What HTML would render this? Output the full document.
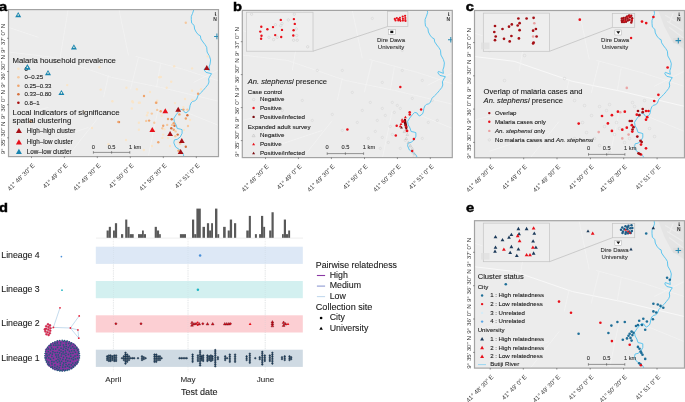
<!DOCTYPE html><html><head><meta charset="utf-8"><style>html,body{margin:0;padding:0;background:#fff;}svg{display:block;will-change:transform;}</style></head><body>
<svg width="685" height="402" viewBox="0 0 685 402" font-family='"Liberation Sans", sans-serif'>
<rect width="685" height="402" fill="#fff"/>
<clipPath id="ca"><rect x="0" y="0" width="210.0" height="147"/></clipPath>
<g transform="translate(8.5,9.6)">
<rect x="0" y="0" width="210.0" height="147" fill="#ececec"/>
<g clip-path="url(#ca)">
<g transform="translate(0,-2.2)">
<path d="M-5,44 L45,50 L103,70 L152,80 L215,95" stroke="#f2f2f2" stroke-width="0.8" fill="none"/>
<path d="M127,49 L175,62 L215,75" stroke="#f2f2f2" stroke-width="0.8" fill="none"/>
<path d="M130,50 L122,82" stroke="#f2f2f2" stroke-width="0.8" fill="none"/>
<path d="M152,57 L148,80" stroke="#f2f2f2" stroke-width="0.8" fill="none"/>
<path d="M100,68 L95,90" stroke="#f2f2f2" stroke-width="0.8" fill="none"/>
<path d="M60,0 L50,60" stroke="#f2f2f2" stroke-width="0.8" fill="none"/>
<path d="M0,20 L30,30" stroke="#f2f2f2" stroke-width="0.8" fill="none"/>
<path d="M185,75 L215,60" stroke="#f2f2f2" stroke-width="0.8" fill="none"/>
<path d="M178,105 L215,120" stroke="#f2f2f2" stroke-width="0.8" fill="none"/>
<path d="M150,100 L140,148" stroke="#f2f2f2" stroke-width="0.8" fill="none"/>
<path d="M0,110 L40,100" stroke="#f2f2f2" stroke-width="0.8" fill="none"/>
<path d="M110,0 L120,48" stroke="#f2f2f2" stroke-width="0.8" fill="none"/>
<path d="M20,140 L80,120" stroke="#f2f2f2" stroke-width="0.8" fill="none"/>
<path d="M60,148 L90,110" stroke="#f2f2f2" stroke-width="0.8" fill="none"/>
<path d="M184.9,-1 L185.3,2.3 L184.1,5.9 L182.8,9 L182.8,12.2 L183.2,15.8 L185.6,17.9 L186.1,21.6 L187.7,24.7 L189.8,27.3 L191.9,28.4 L192.4,31.5 L194.5,34.6 L196.6,37.3 L198.2,39.9 L198.6,44.6 L201.1,49.1 L202.1,52.5 L201.6,56.5 L200.6,59.5 L201.1,63 L196.1,61 L195.6,62.5 L197.6,65 L203.1,66.3 L201.6,68.5 L200.1,71.4 L200.5,74.6 L199.5,77.1 L197.1,80.1 L194.6,83.1 L192.1,85.5 L189.6,88 L188.1,92 L186.1,93.5 L184.1,94 L182.6,95.5 L181.6,98 L181,101.5 L180.2,103.5 L177.5,105.5 L175.7,104.5 L174.8,102.6 L172.4,102 L170,104.4 L167.6,107.4 L165.3,111 L165.9,114.5 L167.6,117.5 L168.8,121.1 L171.8,121.7 L173.6,122.3 L173.6,125.9 L171.8,129.5 L168.8,131.9 L165.9,132.5 L165.3,135.4 L167.1,139.6 L170.6,142 L173.6,144.4 L174.8,146.8 L175.5,150" stroke="#55c3ee" stroke-width="0.95" fill="none" stroke-linejoin="round"/>
</g>
<circle cx="124.40" cy="92.70" r="1.2" fill="#f9e5c9"/>
<circle cx="130.40" cy="93.20" r="1.2" fill="#f9e5c9"/>
<circle cx="147.40" cy="93.20" r="1.2" fill="#f5c9a0"/>
<circle cx="148.70" cy="91.10" r="1.2" fill="#f9e5c9"/>
<circle cx="139.30" cy="103.20" r="1.2" fill="#f9e5c9"/>
<circle cx="143.30" cy="104.00" r="1.2" fill="#f5c9a0"/>
<circle cx="138.50" cy="105.60" r="1.2" fill="#f9e5c9"/>
<circle cx="140.60" cy="111.00" r="1.2" fill="#efa46c"/>
<circle cx="137.70" cy="111.30" r="1.2" fill="#f5c9a0"/>
<circle cx="145.80" cy="113.20" r="1.2" fill="#f5c9a0"/>
<circle cx="130.40" cy="113.20" r="1.2" fill="#f9e5c9"/>
<circle cx="130.40" cy="120.20" r="1.2" fill="#f9e5c9"/>
<circle cx="148.70" cy="100.30" r="1.2" fill="#f5c9a0"/>
<circle cx="152.20" cy="101.60" r="1.2" fill="#efa46c"/>
<circle cx="153.10" cy="106.10" r="1.2" fill="#f9e5c9"/>
<circle cx="159.50" cy="109.40" r="1.2" fill="#efa46c"/>
<circle cx="163.20" cy="109.70" r="1.2" fill="#d6713d"/>
<circle cx="165.20" cy="113.70" r="1.2" fill="#efa46c"/>
<circle cx="163.60" cy="115.30" r="1.2" fill="#f5c9a0"/>
<circle cx="158.70" cy="115.30" r="1.2" fill="#f5c9a0"/>
<circle cx="154.70" cy="116.10" r="1.2" fill="#efa46c"/>
<circle cx="153.90" cy="118.60" r="1.2" fill="#f5c9a0"/>
<circle cx="155.80" cy="119.70" r="1.2" fill="#f9e5c9"/>
<circle cx="166.00" cy="116.10" r="1.2" fill="#d6713d"/>
<circle cx="162.80" cy="118.60" r="1.2" fill="#d6713d"/>
<circle cx="165.20" cy="120.20" r="1.2" fill="#efa46c"/>
<circle cx="167.10" cy="121.80" r="1.2" fill="#f5c9a0"/>
<circle cx="169.20" cy="125.00" r="1.2" fill="#d6713d"/>
<circle cx="166.80" cy="126.70" r="1.2" fill="#f5c9a0"/>
<circle cx="154.70" cy="125.00" r="1.2" fill="#f9e5c9"/>
<circle cx="153.90" cy="128.30" r="1.2" fill="#f9e5c9"/>
<circle cx="159.50" cy="128.30" r="1.2" fill="#f9e5c9"/>
<circle cx="149.80" cy="132.60" r="1.2" fill="#efa46c"/>
<circle cx="170.00" cy="132.60" r="1.2" fill="#f9e5c9"/>
<circle cx="171.70" cy="133.90" r="1.2" fill="#f5c9a0"/>
<circle cx="177.30" cy="137.20" r="1.2" fill="#d6713d"/>
<circle cx="174.90" cy="100.00" r="1.2" fill="#efa46c"/>
<circle cx="178.90" cy="100.00" r="1.2" fill="#f5c9a0"/>
<circle cx="178.90" cy="105.60" r="1.2" fill="#d6713d"/>
<circle cx="177.30" cy="108.90" r="1.2" fill="#efa46c"/>
<circle cx="170.90" cy="104.80" r="1.2" fill="#efa46c"/>
<circle cx="170.00" cy="101.60" r="1.2" fill="#f5c9a0"/>
<circle cx="174.90" cy="97.50" r="1.2" fill="#f9e5c9"/>
<circle cx="176.50" cy="89.40" r="1.2" fill="#f9e5c9"/>
<circle cx="183.80" cy="90.30" r="1.2" fill="#f9e5c9"/>
<circle cx="166.50" cy="93.50" r="1.2" fill="#f9e5c9"/>
<circle cx="135.30" cy="140.40" r="1.2" fill="#f9e5c9"/>
<circle cx="170.00" cy="141.20" r="1.2" fill="#efa46c"/>
<circle cx="172.50" cy="142.80" r="1.2" fill="#f5c9a0"/>
<circle cx="145.80" cy="121.00" r="1.2" fill="#f9e5c9"/>
<circle cx="165.70" cy="56.70" r="1.2" fill="#f9e5c9"/>
<circle cx="183.60" cy="58.80" r="1.2" fill="#f9e5c9"/>
<circle cx="150.80" cy="67.70" r="1.2" fill="#f9e5c9"/>
<circle cx="162.70" cy="72.20" r="1.2" fill="#f9e5c9"/>
<circle cx="158.20" cy="78.20" r="1.2" fill="#f9e5c9"/>
<circle cx="183.60" cy="81.10" r="1.2" fill="#f9e5c9"/>
<circle cx="192.50" cy="79.70" r="1.2" fill="#f9e5c9"/>
<circle cx="189.60" cy="84.10" r="1.2" fill="#efa46c"/>
<circle cx="117.90" cy="78.20" r="1.2" fill="#f9e5c9"/>
<circle cx="128.40" cy="79.70" r="1.2" fill="#f9e5c9"/>
<circle cx="123.90" cy="91.60" r="1.2" fill="#f9e5c9"/>
<circle cx="131.40" cy="93.10" r="1.2" fill="#f9e5c9"/>
<circle cx="147.80" cy="93.10" r="1.2" fill="#efa46c"/>
<circle cx="110.50" cy="112.50" r="1.2" fill="#d6713d"/>
<circle cx="103.90" cy="91.60" r="1.2" fill="#f9e5c9"/>
<circle cx="177.30" cy="13.10" r="1.2" fill="#f5c9a0"/>
<circle cx="152.30" cy="67.40" r="1.2" fill="#f9e5c9"/>
<circle cx="199.20" cy="46.80" r="1.2" fill="#f9e5c9"/>
<circle cx="91.00" cy="57.60" r="1.2" fill="#f9e5c9"/>
<circle cx="92.20" cy="80.00" r="1.2" fill="#f9e5c9"/>
<circle cx="58.70" cy="75.50" r="1.2" fill="#f9e5c9"/>
<circle cx="100.00" cy="134.70" r="1.2" fill="#f9e5c9"/>
<circle cx="109.90" cy="112.30" r="1.2" fill="#efa46c"/>
<circle cx="123.30" cy="98.90" r="1.2" fill="#f9e5c9"/>
<circle cx="181.50" cy="110.40" r="1.2" fill="#f9e5c9"/>
<circle cx="179.50" cy="116.40" r="1.2" fill="#f5c9a0"/>
<circle cx="175.50" cy="120.40" r="1.2" fill="#f9e5c9"/>
<circle cx="161.50" cy="136.40" r="1.2" fill="#f9e5c9"/>
<circle cx="143.50" cy="136.40" r="1.2" fill="#f9e5c9"/>
<circle cx="117.50" cy="130.40" r="1.2" fill="#f9e5c9"/>
<circle cx="22.00" cy="111.90" r="1.2" fill="#efa46c"/>
<circle cx="83.50" cy="118.40" r="1.2" fill="#f9e5c9"/>
<circle cx="75.50" cy="102.40" r="1.2" fill="#f9e5c9"/>
<circle cx="141.50" cy="82.40" r="1.2" fill="#f9e5c9"/>
<circle cx="135.50" cy="86.40" r="1.2" fill="#efa46c"/>
<polygon points="6.70,7.60 12.70,7.60 9.70,2.40" fill="#1985b0"/>
<circle cx="9.70" cy="5.40" r="0.8" fill="#fffbe3"/>
<polygon points="62.40,39.90 68.40,39.90 65.40,34.70" fill="#1985b0"/>
<circle cx="65.40" cy="37.70" r="0.8" fill="#fffbe3"/>
<polygon points="15.90,59.90 21.90,59.90 18.90,54.70" fill="#1985b0"/>
<circle cx="18.90" cy="57.70" r="0.8" fill="#fffbe3"/>
<polygon points="36.50,65.70 42.50,65.70 39.50,60.50" fill="#1985b0"/>
<circle cx="39.50" cy="63.50" r="0.8" fill="#fffbe3"/>
<polygon points="49.90,85.50 55.90,85.50 52.90,80.30" fill="#1985b0"/>
<circle cx="52.90" cy="83.30" r="0.8" fill="#fffbe3"/>
<polygon points="195.40,60.41 201.20,60.41 198.30,55.39" fill="#a50f15"/>
<polygon points="153.90,103.61 159.70,103.61 156.80,98.59" fill="#e8101a"/>
<polygon points="166.80,102.11 172.60,102.11 169.70,97.09" fill="#a50f15"/>
<polygon points="140.90,122.41 146.70,122.41 143.80,117.39" fill="#e8101a"/>
<polygon points="158.70,126.41 164.50,126.41 161.60,121.39" fill="#a50f15"/>
<polygon points="170.40,133.51 176.20,133.51 173.30,128.49" fill="#a50f15"/>
<polygon points="169.20,144.51 175.00,144.51 172.10,139.49" fill="#a50f15"/>
<text x="4.00" y="53.00" font-size="7.75" fill="#1a1a1a" stroke="#1a1a1a" stroke-width="0.1">Malaria household prevalence</text>
<circle cx="9.90" cy="59.10" r="1.3" fill="#f9e5c9"/>
<text x="15.90" y="61.00" font-size="6.1" fill="#1a1a1a" stroke="#1a1a1a" stroke-width="0.1">0</text>
<circle cx="9.90" cy="67.60" r="1.3" fill="#f5c9a0"/>
<text x="15.90" y="69.50" font-size="6.1" fill="#1a1a1a" stroke="#1a1a1a" stroke-width="0.1">0–0.25</text>
<circle cx="9.90" cy="76.10" r="1.3" fill="#efa46c"/>
<text x="15.90" y="78.00" font-size="6.1" fill="#1a1a1a" stroke="#1a1a1a" stroke-width="0.1">0.25–0.33</text>
<circle cx="9.90" cy="84.60" r="1.3" fill="#d6713d"/>
<text x="15.90" y="86.50" font-size="6.1" fill="#1a1a1a" stroke="#1a1a1a" stroke-width="0.1">0.33–0.80</text>
<circle cx="9.90" cy="93.10" r="1.3" fill="#a80d0d"/>
<text x="15.90" y="95.00" font-size="6.1" fill="#1a1a1a" stroke="#1a1a1a" stroke-width="0.1">0.8–1</text>
<polygon points="15.90,59.90 21.90,59.90 18.90,54.70" fill="#1985b0"/>
<circle cx="18.90" cy="57.70" r="0.8" fill="#fffbe3"/>
<text x="4.00" y="105.30" font-size="7.9" fill="#1a1a1a" stroke="#1a1a1a" stroke-width="0.1">Local indicators of significance</text>
<text x="4.00" y="113.40" font-size="7.9" fill="#1a1a1a" stroke="#1a1a1a" stroke-width="0.1">spatial clustering</text>
<polygon points="7.40,123.50 13.40,123.50 10.40,118.30" fill="#a50f15"/>
<text x="18.20" y="123.20" font-size="6.3" fill="#1a1a1a" stroke="#1a1a1a" stroke-width="0.1">High–high cluster</text>
<polygon points="7.40,134.90 13.40,134.90 10.40,129.70" fill="#e8101a"/>
<text x="18.20" y="134.60" font-size="6.3" fill="#1a1a1a" stroke="#1a1a1a" stroke-width="0.1">High–low cluster</text>
<polygon points="7.40,144.30 13.40,144.30 10.40,139.10" fill="#1985b0"/>
<text x="18.20" y="144.00" font-size="6.3" fill="#1a1a1a" stroke="#1a1a1a" stroke-width="0.1">Low–low cluster</text>
<path d="M84.9,142.8 L121.30000000000001,142.8 M84.9,141.5 L84.9,144.10000000000002 M103.10000000000001,141.5 L103.10000000000001,144.10000000000002 M121.30000000000001,141.5 L121.30000000000001,144.10000000000002" stroke="#555" stroke-width="0.6" fill="none"/>
<text x="84.90" y="139.00" font-size="5.7" fill="#333" text-anchor="middle" stroke="#333" stroke-width="0.1">0</text>
<text x="103.10" y="139.00" font-size="5.7" fill="#333" text-anchor="middle" stroke="#333" stroke-width="0.1">0.5</text>
<text x="120.50" y="139.00" font-size="5.7" fill="#333" stroke="#333" stroke-width="0.1">1 km</text>
<path d="M206.9,2.4 L206.9,5.9" stroke="#222" stroke-width="0.7" fill="none"/>
<path d="M206.6,4.4 L208.20000000000002,6.0 L206.6,6.0 Z" fill="#222"/>
<text transform="translate(206.55,11.1) scale(0.8,1)" font-size="6.2" font-weight="bold" fill="#333" text-anchor="middle">N</text>
<path d="M205.6,26.8 L211.20000000000002,26.8 M208.4,24.0 L208.4,29.6" stroke="#2a8cb4" stroke-width="1.05"/>
</g>
<rect x="0" y="0" width="210.0" height="147" fill="none" stroke="#a3a3a3" stroke-width="1.2"/>
</g>
<text transform="translate(-0.9,10.6) scale(1.13,1)" font-size="13" font-weight="bold" fill="#000" stroke="#000" stroke-width="0.45">a</text>
<path d="M31.5,156.6 L31.5,158.1" stroke="#333" stroke-width="0.5"/>
<text x="35.30" y="165.90" font-size="6.2" fill="#3d3d3d" text-anchor="end" transform="rotate(-45 35.30 165.90)">41° 48' 30&quot; E</text>
<path d="M64.4,156.6 L64.4,158.1" stroke="#333" stroke-width="0.5"/>
<text x="68.20" y="165.90" font-size="6.2" fill="#3d3d3d" text-anchor="end" transform="rotate(-45 68.20 165.90)">41° 49' 0&quot; E</text>
<path d="M97.3,156.6 L97.3,158.1" stroke="#333" stroke-width="0.5"/>
<text x="101.10" y="165.90" font-size="6.2" fill="#3d3d3d" text-anchor="end" transform="rotate(-45 101.10 165.90)">41° 49' 30&quot; E</text>
<path d="M130.3,156.6 L130.3,158.1" stroke="#333" stroke-width="0.5"/>
<text x="134.10" y="165.90" font-size="6.2" fill="#3d3d3d" text-anchor="end" transform="rotate(-45 134.10 165.90)">41° 50' 0&quot; E</text>
<path d="M163.3,156.6 L163.3,158.1" stroke="#333" stroke-width="0.5"/>
<text x="167.10" y="165.90" font-size="6.2" fill="#3d3d3d" text-anchor="end" transform="rotate(-45 167.10 165.90)">41° 50' 30&quot; E</text>
<path d="M196.3,156.6 L196.3,158.1" stroke="#333" stroke-width="0.5"/>
<text x="200.10" y="165.90" font-size="6.2" fill="#3d3d3d" text-anchor="end" transform="rotate(-45 200.10 165.90)">41° 51' 0&quot; E</text>
<path d="M7.0,38.3 L8.5,38.3" stroke="#333" stroke-width="0.5"/>
<text x="5.10" y="38.30" font-size="6.2" fill="#3d3d3d" text-anchor="middle" transform="rotate(-90 5.10 38.30)">9° 37' 0&quot; N</text>
<path d="M7.0,71.5 L8.5,71.5" stroke="#333" stroke-width="0.5"/>
<text x="5.10" y="71.50" font-size="6.2" fill="#3d3d3d" text-anchor="middle" transform="rotate(-90 5.10 71.50)">9° 36' 30&quot; N</text>
<path d="M7.0,104.7 L8.5,104.7" stroke="#333" stroke-width="0.5"/>
<text x="5.10" y="104.70" font-size="6.2" fill="#3d3d3d" text-anchor="middle" transform="rotate(-90 5.10 104.70)">9° 36' 0&quot; N</text>
<path d="M7.0,137.8 L8.5,137.8" stroke="#333" stroke-width="0.5"/>
<text x="5.10" y="137.80" font-size="6.2" fill="#3d3d3d" text-anchor="middle" transform="rotate(-90 5.10 137.80)">9° 35' 30&quot; N</text>
<clipPath id="cb"><rect x="0" y="0" width="210.0" height="147.2"/></clipPath>
<g transform="translate(242.3,10.4)">
<rect x="0" y="0" width="210.0" height="147.2" fill="#ececec"/>
<g clip-path="url(#cb)">
<g transform="">
<path d="M-5,44 L45,50 L103,70 L152,80 L215,95" stroke="#f2f2f2" stroke-width="0.8" fill="none"/>
<path d="M127,49 L175,62 L215,75" stroke="#f2f2f2" stroke-width="0.8" fill="none"/>
<path d="M130,50 L122,82" stroke="#f2f2f2" stroke-width="0.8" fill="none"/>
<path d="M152,57 L148,80" stroke="#f2f2f2" stroke-width="0.8" fill="none"/>
<path d="M100,68 L95,90" stroke="#f2f2f2" stroke-width="0.8" fill="none"/>
<path d="M60,0 L50,60" stroke="#f2f2f2" stroke-width="0.8" fill="none"/>
<path d="M0,20 L30,30" stroke="#f2f2f2" stroke-width="0.8" fill="none"/>
<path d="M185,75 L215,60" stroke="#f2f2f2" stroke-width="0.8" fill="none"/>
<path d="M178,105 L215,120" stroke="#f2f2f2" stroke-width="0.8" fill="none"/>
<path d="M150,100 L140,148" stroke="#f2f2f2" stroke-width="0.8" fill="none"/>
<path d="M0,110 L40,100" stroke="#f2f2f2" stroke-width="0.8" fill="none"/>
<path d="M110,0 L120,48" stroke="#f2f2f2" stroke-width="0.8" fill="none"/>
<path d="M20,140 L80,120" stroke="#f2f2f2" stroke-width="0.8" fill="none"/>
<path d="M60,148 L90,110" stroke="#f2f2f2" stroke-width="0.8" fill="none"/>
<path d="M184.9,-1 L185.3,2.3 L184.1,5.9 L182.8,9 L182.8,12.2 L183.2,15.8 L185.6,17.9 L186.1,21.6 L187.7,24.7 L189.8,27.3 L191.9,28.4 L192.4,31.5 L194.5,34.6 L196.6,37.3 L198.2,39.9 L198.6,44.6 L201.1,49.1 L202.1,52.5 L201.6,56.5 L200.6,59.5 L201.1,63 L196.1,61 L195.6,62.5 L197.6,65 L203.1,66.3 L201.6,68.5 L200.1,71.4 L200.5,74.6 L199.5,77.1 L197.1,80.1 L194.6,83.1 L192.1,85.5 L189.6,88 L188.1,92 L186.1,93.5 L184.1,94 L182.6,95.5 L181.6,98 L181,101.5 L180.2,103.5 L177.5,105.5 L175.7,104.5 L174.8,102.6 L172.4,102 L170,104.4 L167.6,107.4 L165.3,111 L165.9,114.5 L167.6,117.5 L168.8,121.1 L171.8,121.7 L173.6,122.3 L173.6,125.9 L171.8,129.5 L168.8,131.9 L165.9,132.5 L165.3,135.4 L167.1,139.6 L170.6,142 L173.6,144.4 L174.8,146.8 L175.5,150" stroke="#55c3ee" stroke-width="0.95" fill="none" stroke-linejoin="round"/>
</g>
<circle cx="130.00" cy="8.00" r="1.15" fill="none" stroke="#d0d0d0" stroke-width="0.45"/>
<circle cx="160.00" cy="40.00" r="1.15" fill="none" stroke="#d0d0d0" stroke-width="0.45"/>
<circle cx="180.00" cy="70.00" r="1.15" fill="none" stroke="#d0d0d0" stroke-width="0.45"/>
<circle cx="170.00" cy="88.00" r="1.15" fill="none" stroke="#d0d0d0" stroke-width="0.45"/>
<circle cx="150.00" cy="92.00" r="1.15" fill="none" stroke="#d0d0d0" stroke-width="0.45"/>
<circle cx="155.00" cy="95.00" r="1.15" fill="none" stroke="#d0d0d0" stroke-width="0.45"/>
<circle cx="140.00" cy="98.00" r="1.15" fill="none" stroke="#d0d0d0" stroke-width="0.45"/>
<circle cx="120.00" cy="100.00" r="1.15" fill="none" stroke="#d0d0d0" stroke-width="0.45"/>
<circle cx="110.00" cy="82.00" r="1.15" fill="none" stroke="#d0d0d0" stroke-width="0.45"/>
<circle cx="190.00" cy="90.00" r="1.15" fill="none" stroke="#d0d0d0" stroke-width="0.45"/>
<circle cx="195.00" cy="110.00" r="1.15" fill="none" stroke="#d0d0d0" stroke-width="0.45"/>
<circle cx="135.00" cy="110.00" r="1.15" fill="none" stroke="#d0d0d0" stroke-width="0.45"/>
<circle cx="100.00" cy="120.00" r="1.15" fill="none" stroke="#d0d0d0" stroke-width="0.45"/>
<circle cx="60.00" cy="90.00" r="1.15" fill="none" stroke="#d0d0d0" stroke-width="0.45"/>
<circle cx="70.00" cy="110.00" r="1.15" fill="none" stroke="#d0d0d0" stroke-width="0.45"/>
<circle cx="40.00" cy="100.00" r="1.15" fill="none" stroke="#d0d0d0" stroke-width="0.45"/>
<circle cx="20.00" cy="120.00" r="1.15" fill="none" stroke="#d0d0d0" stroke-width="0.45"/>
<circle cx="90.00" cy="104.00" r="1.15" fill="none" stroke="#d0d0d0" stroke-width="0.45"/>
<circle cx="105.00" cy="135.00" r="1.15" fill="none" stroke="#d0d0d0" stroke-width="0.45"/>
<circle cx="126.00" cy="128.00" r="1.15" fill="none" stroke="#d0d0d0" stroke-width="0.45"/>
<circle cx="133.00" cy="121.00" r="1.15" fill="none" stroke="#d0d0d0" stroke-width="0.45"/>
<circle cx="140.00" cy="127.00" r="1.15" fill="none" stroke="#d0d0d0" stroke-width="0.45"/>
<circle cx="146.00" cy="132.00" r="1.15" fill="none" stroke="#d0d0d0" stroke-width="0.45"/>
<circle cx="150.00" cy="124.00" r="1.15" fill="none" stroke="#d0d0d0" stroke-width="0.45"/>
<circle cx="148.00" cy="116.00" r="1.15" fill="none" stroke="#d0d0d0" stroke-width="0.45"/>
<circle cx="143.00" cy="105.00" r="1.15" fill="none" stroke="#d0d0d0" stroke-width="0.45"/>
<circle cx="152.00" cy="102.00" r="1.15" fill="none" stroke="#d0d0d0" stroke-width="0.45"/>
<circle cx="158.00" cy="98.00" r="1.15" fill="none" stroke="#d0d0d0" stroke-width="0.45"/>
<circle cx="163.00" cy="130.00" r="1.15" fill="none" stroke="#d0d0d0" stroke-width="0.45"/>
<circle cx="168.00" cy="136.00" r="1.15" fill="none" stroke="#d0d0d0" stroke-width="0.45"/>
<circle cx="170.00" cy="142.00" r="1.15" fill="none" stroke="#d0d0d0" stroke-width="0.45"/>
<circle cx="172.00" cy="146.00" r="1.15" fill="none" stroke="#d0d0d0" stroke-width="0.45"/>
<circle cx="158.00" cy="138.00" r="1.15" fill="none" stroke="#d0d0d0" stroke-width="0.45"/>
<circle cx="138.00" cy="138.00" r="1.15" fill="none" stroke="#d0d0d0" stroke-width="0.45"/>
<circle cx="115.00" cy="112.00" r="1.15" fill="none" stroke="#d0d0d0" stroke-width="0.45"/>
<circle cx="128.00" cy="92.00" r="1.15" fill="none" stroke="#d0d0d0" stroke-width="0.45"/>
<circle cx="180.00" cy="128.00" r="1.15" fill="none" stroke="#d0d0d0" stroke-width="0.45"/>
<circle cx="186.00" cy="112.00" r="1.15" fill="none" stroke="#d0d0d0" stroke-width="0.45"/>
<circle cx="160.00" cy="60.00" r="1.15" fill="none" stroke="#d0d0d0" stroke-width="0.45"/>
<circle cx="140.00" cy="72.00" r="1.15" fill="none" stroke="#d0d0d0" stroke-width="0.45"/>
<circle cx="75.00" cy="60.00" r="1.15" fill="none" stroke="#d0d0d0" stroke-width="0.45"/>
<circle cx="100.00" cy="60.00" r="1.15" fill="none" stroke="#d0d0d0" stroke-width="0.45"/>
<rect x="4.2" y="1.8" width="66.5" height="39" fill="#eeeeee" stroke="#c4c4c4" stroke-width="0.7"/>
<path d="M70.7,40.8 L145.2,16.2" stroke="#b3b3b3" stroke-width="0.6"/>
<rect x="145.2" y="0.9" width="20.4" height="15.3" fill="#eeeeee" stroke="#c4c4c4" stroke-width="0.7"/>
<circle cx="9.30" cy="3.80" r="1.2" fill="none" stroke="#cacaca" stroke-width="0.5"/>
<circle cx="52.00" cy="3.80" r="1.2" fill="none" stroke="#cacaca" stroke-width="0.5"/>
<circle cx="46.00" cy="9.50" r="1.2" fill="none" stroke="#cacaca" stroke-width="0.5"/>
<circle cx="33.10" cy="14.30" r="1.2" fill="none" stroke="#cacaca" stroke-width="0.5"/>
<circle cx="38.50" cy="15.30" r="1.2" fill="none" stroke="#cacaca" stroke-width="0.5"/>
<circle cx="39.70" cy="13.10" r="1.2" fill="none" stroke="#cacaca" stroke-width="0.5"/>
<circle cx="54.00" cy="18.50" r="1.2" fill="none" stroke="#cacaca" stroke-width="0.5"/>
<circle cx="26.60" cy="26.90" r="1.2" fill="none" stroke="#cacaca" stroke-width="0.5"/>
<circle cx="31.30" cy="29.20" r="1.2" fill="none" stroke="#cacaca" stroke-width="0.5"/>
<circle cx="34.90" cy="26.90" r="1.2" fill="none" stroke="#cacaca" stroke-width="0.5"/>
<circle cx="54.40" cy="25.10" r="1.2" fill="none" stroke="#cacaca" stroke-width="0.5"/>
<circle cx="51.30" cy="29.80" r="1.2" fill="none" stroke="#cacaca" stroke-width="0.5"/>
<circle cx="54.90" cy="29.80" r="1.2" fill="none" stroke="#cacaca" stroke-width="0.5"/>
<circle cx="65.40" cy="36.40" r="1.2" fill="none" stroke="#cacaca" stroke-width="0.5"/>
<circle cx="19.00" cy="16.30" r="1.2" fill="#e8101a"/>
<circle cx="18.00" cy="21.20" r="1.2" fill="#e8101a"/>
<circle cx="19.20" cy="25.30" r="1.2" fill="#e8101a"/>
<circle cx="18.80" cy="28.40" r="1.2" fill="#e8101a"/>
<circle cx="25.10" cy="18.90" r="1.2" fill="#e8101a"/>
<circle cx="30.70" cy="16.70" r="1.2" fill="#e8101a"/>
<circle cx="32.90" cy="24.70" r="1.2" fill="#e8101a"/>
<circle cx="38.50" cy="9.50" r="1.2" fill="#e8101a"/>
<circle cx="39.70" cy="19.50" r="1.2" fill="#e8101a"/>
<circle cx="38.90" cy="26.60" r="1.2" fill="#e8101a"/>
<circle cx="51.60" cy="8.70" r="1.2" fill="#e8101a"/>
<circle cx="52.50" cy="13.50" r="1.2" fill="#e8101a"/>
<circle cx="51.30" cy="19.90" r="1.2" fill="#e8101a"/>
<circle cx="51.00" cy="25.10" r="1.2" fill="#e8101a"/>
<circle cx="152.50" cy="8.50" r="1.1" fill="#e8101a"/>
<circle cx="153.20" cy="10.00" r="1.1" fill="#e8101a"/>
<circle cx="154.50" cy="7.60" r="1.1" fill="#e8101a"/>
<circle cx="156.00" cy="8.60" r="1.1" fill="#e8101a"/>
<circle cx="156.00" cy="10.00" r="1.1" fill="#e8101a"/>
<circle cx="157.60" cy="7.40" r="1.1" fill="#e8101a"/>
<circle cx="157.60" cy="9.40" r="1.1" fill="#e8101a"/>
<circle cx="158.20" cy="10.40" r="1.1" fill="#e8101a"/>
<circle cx="160.40" cy="6.20" r="1.1" fill="#e8101a"/>
<circle cx="160.60" cy="8.40" r="1.1" fill="#e8101a"/>
<circle cx="160.60" cy="10.20" r="1.1" fill="#e8101a"/>
<circle cx="162.80" cy="5.40" r="1.1" fill="#e8101a"/>
<circle cx="163.00" cy="7.60" r="1.1" fill="#e8101a"/>
<circle cx="163.00" cy="9.60" r="1.1" fill="#e8101a"/>
<circle cx="163.20" cy="10.60" r="1.1" fill="#e8101a"/>
<rect x="146" y="19.1" width="7" height="4.9" fill="#fff" stroke="#999" stroke-width="0.4"/>
<rect x="148" y="20.3" width="3" height="2.4" fill="#111"/>
<text x="148.70" y="31.50" font-size="6.0" fill="#333" text-anchor="middle" stroke="#333" stroke-width="0.1">Dire Dawa</text>
<text x="148.70" y="38.30" font-size="6.0" fill="#333" text-anchor="middle" stroke="#333" stroke-width="0.1">University</text>
<circle cx="158.00" cy="76.60" r="1.25" fill="#e8101a"/>
<circle cx="178.80" cy="99.20" r="1.25" fill="#e8101a"/>
<circle cx="167.40" cy="101.90" r="1.25" fill="#e8101a"/>
<circle cx="167.40" cy="104.20" r="1.25" fill="#e8101a"/>
<circle cx="154.40" cy="115.30" r="1.25" fill="#e8101a"/>
<circle cx="153.50" cy="125.20" r="1.25" fill="#e8101a"/>
<circle cx="164.80" cy="120.60" r="1.25" fill="#e8101a"/>
<circle cx="171.60" cy="128.70" r="1.25" fill="#e8101a"/>
<circle cx="169.90" cy="140.60" r="1.25" fill="#e8101a"/>
<circle cx="105.10" cy="119.00" r="1.25" fill="#e8101a"/>
<path d="M161.8,108.4 L163.6,108.6 L164.2,112 L165.2,116.5 L164.8,119 L163.2,119.2 L162.4,115.5 L161.2,111.5 Z" fill="#6e080c"/>
<polygon points="161.65,107.86 164.55,107.86 163.10,105.34" fill="#e8101a"/>
<polygon points="158.35,110.46 161.25,110.46 159.80,107.94" fill="#e8101a"/>
<polygon points="160.15,111.66 163.05,111.66 161.60,109.14" fill="#e8101a"/>
<polygon points="157.25,114.56 160.15,114.56 158.70,112.04" fill="#e8101a"/>
<polygon points="156.45,116.76 159.35,116.76 157.90,114.24" fill="#e8101a"/>
<polygon points="157.75,118.06 160.65,118.06 159.20,115.54" fill="#6e080c"/>
<polygon points="161.85,115.46 164.75,115.46 163.30,112.94" fill="#a50f15"/>
<polygon points="162.15,117.16 165.05,117.16 163.60,114.64" fill="#e8101a"/>
<circle cx="164.60" cy="120.40" r="1.3" fill="#e8101a"/>
<circle cx="160.20" cy="111.40" r="1.3" fill="#e8101a"/>
<polygon points="160.70,122.13 163.30,122.13 162.00,119.87" fill="none" stroke="#bdbdbd" stroke-width="0.45" stroke-linejoin="round"/>
<polygon points="163.70,125.13 166.30,125.13 165.00,122.87" fill="none" stroke="#bdbdbd" stroke-width="0.45" stroke-linejoin="round"/>
<polygon points="162.70,129.13 165.30,129.13 164.00,126.87" fill="none" stroke="#bdbdbd" stroke-width="0.45" stroke-linejoin="round"/>
<polygon points="164.70,133.13 167.30,133.13 166.00,130.87" fill="none" stroke="#bdbdbd" stroke-width="0.45" stroke-linejoin="round"/>
<polygon points="166.70,136.13 169.30,136.13 168.00,133.87" fill="none" stroke="#bdbdbd" stroke-width="0.45" stroke-linejoin="round"/>
<polygon points="168.70,139.13 171.30,139.13 170.00,136.87" fill="none" stroke="#bdbdbd" stroke-width="0.45" stroke-linejoin="round"/>
<polygon points="170.70,144.13 173.30,144.13 172.00,141.87" fill="none" stroke="#bdbdbd" stroke-width="0.45" stroke-linejoin="round"/>
<text x="5.40" y="74.10" font-size="7.6" fill="#1a1a1a" stroke="#1a1a1a" stroke-width="0.1"><tspan font-style="italic">An. stephensi</tspan> presence</text>
<text x="5.40" y="83.20" font-size="6.2" fill="#1a1a1a" stroke="#1a1a1a" stroke-width="0.1">Case control</text>
<text x="5.40" y="118.50" font-size="6.2" fill="#1a1a1a" stroke="#1a1a1a" stroke-width="0.1">Expanded adult survey</text>
<circle cx="11.30" cy="89.10" r="1.2" fill="none" stroke="#c8c8c8" stroke-width="0.5"/>
<text x="17.70" y="91.00" font-size="6.2" fill="#1a1a1a" stroke="#1a1a1a" stroke-width="0.1">Negative</text>
<circle cx="11.30" cy="97.60" r="1.2" fill="#e8101a"/>
<text x="17.70" y="99.50" font-size="6.2" fill="#1a1a1a" stroke="#1a1a1a" stroke-width="0.1">Positive</text>
<circle cx="11.30" cy="106.50" r="1.2" fill="#7a0a0e"/>
<text x="17.70" y="108.40" font-size="6.2" fill="#1a1a1a" stroke="#1a1a1a" stroke-width="0.1">Positive/infected</text>
<polygon points="9.80,126.30 12.80,126.30 11.30,123.70" fill="none" stroke="#bbbbbb" stroke-width="0.5" stroke-linejoin="round"/>
<text x="17.70" y="127.00" font-size="6.2" fill="#1a1a1a" stroke="#1a1a1a" stroke-width="0.1">Negative</text>
<polygon points="9.80,134.90 12.80,134.90 11.30,132.30" fill="#e8101a"/>
<text x="17.70" y="135.60" font-size="6.2" fill="#1a1a1a" stroke="#1a1a1a" stroke-width="0.1">Positive</text>
<polygon points="9.80,143.90 12.80,143.90 11.30,141.30" fill="#7a0a0e"/>
<text x="17.70" y="144.60" font-size="6.2" fill="#1a1a1a" stroke="#1a1a1a" stroke-width="0.1">Positive/infected</text>
<path d="M84.9,143.2 L121.30000000000001,143.2 M84.9,141.89999999999998 L84.9,144.5 M103.10000000000001,141.89999999999998 L103.10000000000001,144.5 M121.30000000000001,141.89999999999998 L121.30000000000001,144.5" stroke="#555" stroke-width="0.6" fill="none"/>
<text x="84.90" y="138.60" font-size="5.7" fill="#333" text-anchor="middle" stroke="#333" stroke-width="0.1">0</text>
<text x="103.10" y="138.60" font-size="5.7" fill="#333" text-anchor="middle" stroke="#333" stroke-width="0.1">0.5</text>
<text x="120.50" y="138.60" font-size="5.7" fill="#333" stroke="#333" stroke-width="0.1">1 km</text>
<path d="M206.3,1.8 L206.3,5.3" stroke="#222" stroke-width="0.7" fill="none"/>
<path d="M206.0,3.8 L207.60000000000002,5.4 L206.0,5.4 Z" fill="#222"/>
<text transform="translate(205.95000000000002,10.5) scale(0.8,1)" font-size="6.2" font-weight="bold" fill="#333" text-anchor="middle">N</text>
<path d="M205.7,29.3 L211.3,29.3 M208.5,26.5 L208.5,32.1" stroke="#2a8cb4" stroke-width="1.05"/>
</g>
<rect x="0" y="0" width="210.0" height="147.2" fill="none" stroke="#a3a3a3" stroke-width="1.2"/>
</g>
<text transform="translate(233.0,10.6) scale(1.13,1)" font-size="13" font-weight="bold" fill="#000" stroke="#000" stroke-width="0.45">b</text>
<path d="M265.5,157.6 L265.5,159.1" stroke="#333" stroke-width="0.5"/>
<text x="269.30" y="166.90" font-size="6.2" fill="#3d3d3d" text-anchor="end" transform="rotate(-45 269.30 166.90)">41° 48' 30&quot; E</text>
<path d="M298.4,157.6 L298.4,159.1" stroke="#333" stroke-width="0.5"/>
<text x="302.20" y="166.90" font-size="6.2" fill="#3d3d3d" text-anchor="end" transform="rotate(-45 302.20 166.90)">41° 49' 0&quot; E</text>
<path d="M331.4,157.6 L331.4,159.1" stroke="#333" stroke-width="0.5"/>
<text x="335.20" y="166.90" font-size="6.2" fill="#3d3d3d" text-anchor="end" transform="rotate(-45 335.20 166.90)">41° 49' 30&quot; E</text>
<path d="M364.5,157.6 L364.5,159.1" stroke="#333" stroke-width="0.5"/>
<text x="368.30" y="166.90" font-size="6.2" fill="#3d3d3d" text-anchor="end" transform="rotate(-45 368.30 166.90)">41° 50' 0&quot; E</text>
<path d="M397.4,157.6 L397.4,159.1" stroke="#333" stroke-width="0.5"/>
<text x="401.20" y="166.90" font-size="6.2" fill="#3d3d3d" text-anchor="end" transform="rotate(-45 401.20 166.90)">41° 50' 30&quot; E</text>
<path d="M430.3,157.6 L430.3,159.1" stroke="#333" stroke-width="0.5"/>
<text x="434.10" y="166.90" font-size="6.2" fill="#3d3d3d" text-anchor="end" transform="rotate(-45 434.10 166.90)">41° 51' 0&quot; E</text>
<path d="M240.8,41.7 L242.3,41.7" stroke="#333" stroke-width="0.5"/>
<text x="238.90" y="41.70" font-size="6.2" fill="#3d3d3d" text-anchor="middle" transform="rotate(-90 238.90 41.70)">9° 37' 0&quot; N</text>
<path d="M240.8,74.6 L242.3,74.6" stroke="#333" stroke-width="0.5"/>
<text x="238.90" y="74.60" font-size="6.2" fill="#3d3d3d" text-anchor="middle" transform="rotate(-90 238.90 74.60)">9° 36' 30&quot; N</text>
<path d="M240.8,107.6 L242.3,107.6" stroke="#333" stroke-width="0.5"/>
<text x="238.90" y="107.60" font-size="6.2" fill="#3d3d3d" text-anchor="middle" transform="rotate(-90 238.90 107.60)">9° 36' 0&quot; N</text>
<path d="M240.8,140.6 L242.3,140.6" stroke="#333" stroke-width="0.5"/>
<text x="238.90" y="140.60" font-size="6.2" fill="#3d3d3d" text-anchor="middle" transform="rotate(-90 238.90 140.60)">9° 35' 30&quot; N</text>
<clipPath id="cc"><rect x="0" y="0" width="210.0" height="147.3"/></clipPath>
<g transform="translate(474.5,10.5)">
<rect x="0" y="0" width="210.0" height="147.3" fill="#ececec"/>
<g clip-path="url(#cc)">
<g transform="translate(-5.3,0.8)">
<path d="M188.5,-2 L218,-2 L218,40 L203,30 L195,15 Z" fill="#e4e4e4"/>
<path d="M196,4 L210,12 M198,10 L214,20 M200,16 L216,28 M204,2 L200,12" stroke="#ececec" stroke-width="1.2" fill="none"/>
<path d="M-5,44 L45,50 L103,70 L152,80 L215,95" stroke="#f8f8f8" stroke-width="1.0" fill="none"/>
<path d="M127,49 L175,62 L215,75" stroke="#f2f2f2" stroke-width="0.8" fill="none"/>
<path d="M130,50 L122,82" stroke="#f2f2f2" stroke-width="0.8" fill="none"/>
<path d="M152,57 L148,80" stroke="#f2f2f2" stroke-width="0.8" fill="none"/>
<path d="M100,68 L95,90" stroke="#f2f2f2" stroke-width="0.8" fill="none"/>
<path d="M60,0 L50,60" stroke="#f2f2f2" stroke-width="0.8" fill="none"/>
<path d="M0,20 L30,30" stroke="#f2f2f2" stroke-width="0.8" fill="none"/>
<path d="M185,75 L215,60" stroke="#f2f2f2" stroke-width="0.8" fill="none"/>
<path d="M178,105 L215,120" stroke="#f2f2f2" stroke-width="0.8" fill="none"/>
<path d="M150,100 L140,148" stroke="#f2f2f2" stroke-width="0.8" fill="none"/>
<path d="M0,110 L40,100" stroke="#f2f2f2" stroke-width="0.8" fill="none"/>
<path d="M110,0 L120,48" stroke="#f2f2f2" stroke-width="0.8" fill="none"/>
<path d="M20,140 L80,120" stroke="#f2f2f2" stroke-width="0.8" fill="none"/>
<path d="M60,148 L90,110" stroke="#f2f2f2" stroke-width="0.8" fill="none"/>
<path d="M184.9,-1 L185.3,2.3 L184.1,5.9 L182.8,9 L182.8,12.2 L183.2,15.8 L185.6,17.9 L186.1,21.6 L187.7,24.7 L189.8,27.3 L191.9,28.4 L192.4,31.5 L194.5,34.6 L196.6,37.3 L198.2,39.9 L198.6,44.6 L201.1,49.1 L202.1,52.5 L201.6,56.5 L200.6,59.5 L201.1,63 L196.1,61 L195.6,62.5 L197.6,65 L203.1,66.3 L201.6,68.5 L200.1,71.4 L200.5,74.6 L199.5,77.1 L197.1,80.1 L194.6,83.1 L192.1,85.5 L189.6,88 L188.1,92 L186.1,93.5 L184.1,94 L182.6,95.5 L181.6,98 L181,101.5 L180.2,103.5 L177.5,105.5 L175.7,104.5 L174.8,102.6 L172.4,102 L170,104.4 L167.6,107.4 L165.3,111 L165.9,114.5 L167.6,117.5 L168.8,121.1 L171.8,121.7 L173.6,122.3 L173.6,125.9 L171.8,129.5 L168.8,131.9 L165.9,132.5 L165.3,135.4 L167.1,139.6 L170.6,142 L173.6,144.4 L174.8,146.8 L175.5,150" stroke="#55c3ee" stroke-width="0.95" fill="none" stroke-linejoin="round"/>
</g>
<circle cx="15.00" cy="40.00" r="1.3" fill="none" stroke="#d2d2d2" stroke-width="0.5"/>
<circle cx="50.00" cy="45.00" r="1.3" fill="none" stroke="#d2d2d2" stroke-width="0.5"/>
<circle cx="30.00" cy="70.00" r="1.3" fill="none" stroke="#d2d2d2" stroke-width="0.5"/>
<circle cx="60.00" cy="80.00" r="1.3" fill="none" stroke="#d2d2d2" stroke-width="0.5"/>
<circle cx="90.00" cy="68.00" r="1.3" fill="none" stroke="#d2d2d2" stroke-width="0.5"/>
<circle cx="100.00" cy="90.00" r="1.3" fill="none" stroke="#d2d2d2" stroke-width="0.5"/>
<circle cx="110.00" cy="95.00" r="1.3" fill="none" stroke="#d2d2d2" stroke-width="0.5"/>
<circle cx="125.00" cy="96.00" r="1.3" fill="none" stroke="#d2d2d2" stroke-width="0.5"/>
<circle cx="135.00" cy="94.00" r="1.3" fill="none" stroke="#d2d2d2" stroke-width="0.5"/>
<circle cx="130.00" cy="116.00" r="1.3" fill="none" stroke="#d2d2d2" stroke-width="0.5"/>
<circle cx="140.00" cy="124.00" r="1.3" fill="none" stroke="#d2d2d2" stroke-width="0.5"/>
<circle cx="120.00" cy="128.00" r="1.3" fill="none" stroke="#d2d2d2" stroke-width="0.5"/>
<circle cx="150.00" cy="132.00" r="1.3" fill="none" stroke="#d2d2d2" stroke-width="0.5"/>
<circle cx="160.00" cy="96.00" r="1.3" fill="none" stroke="#d2d2d2" stroke-width="0.5"/>
<circle cx="170.00" cy="90.00" r="1.3" fill="none" stroke="#d2d2d2" stroke-width="0.5"/>
<circle cx="135.00" cy="142.00" r="1.3" fill="none" stroke="#d2d2d2" stroke-width="0.5"/>
<circle cx="142.00" cy="112.00" r="1.3" fill="none" stroke="#d2d2d2" stroke-width="0.5"/>
<circle cx="117.00" cy="105.00" r="1.3" fill="none" stroke="#d2d2d2" stroke-width="0.5"/>
<circle cx="108.00" cy="112.00" r="1.3" fill="none" stroke="#d2d2d2" stroke-width="0.5"/>
<circle cx="100.00" cy="128.00" r="1.3" fill="none" stroke="#d2d2d2" stroke-width="0.5"/>
<circle cx="145.00" cy="118.00" r="1.3" fill="none" stroke="#d2d2d2" stroke-width="0.5"/>
<circle cx="155.00" cy="128.00" r="1.3" fill="none" stroke="#d2d2d2" stroke-width="0.5"/>
<circle cx="160.00" cy="136.00" r="1.3" fill="none" stroke="#d2d2d2" stroke-width="0.5"/>
<circle cx="158.00" cy="92.00" r="1.3" fill="none" stroke="#d2d2d2" stroke-width="0.5"/>
<circle cx="175.00" cy="118.00" r="1.3" fill="none" stroke="#d2d2d2" stroke-width="0.5"/>
<circle cx="180.00" cy="126.00" r="1.3" fill="none" stroke="#d2d2d2" stroke-width="0.5"/>
<circle cx="112.00" cy="122.00" r="1.3" fill="none" stroke="#d2d2d2" stroke-width="0.5"/>
<circle cx="125.00" cy="135.00" r="1.3" fill="none" stroke="#d2d2d2" stroke-width="0.5"/>
<circle cx="132.00" cy="100.00" r="1.3" fill="none" stroke="#d2d2d2" stroke-width="0.5"/>
<rect x="8.8" y="2.6" width="66.2" height="38.2" fill="#eeeeee" stroke="#c4c4c4" stroke-width="0.7"/>
<path d="M75,40.8 L137.8,16.9" stroke="#b3b3b3" stroke-width="0.6"/>
<rect x="6.5" y="32.1" width="8.5" height="6.6" fill="#dedede" opacity="0.7"/>
<rect x="137.8" y="2.9" width="22.4" height="14" fill="#eeeeee" stroke="#c4c4c4" stroke-width="0.7"/>
<circle cx="20.50" cy="15.50" r="1.35" fill="#a50f15"/>
<circle cx="19.80" cy="21.50" r="1.35" fill="#a50f15"/>
<circle cx="21.20" cy="26.00" r="1.35" fill="#a50f15"/>
<circle cx="20.50" cy="29.70" r="1.35" fill="#a50f15"/>
<circle cx="28.00" cy="18.50" r="1.35" fill="#a50f15"/>
<circle cx="29.50" cy="28.30" r="1.35" fill="#a50f15"/>
<circle cx="34.50" cy="16.20" r="1.35" fill="#a50f15"/>
<circle cx="37.30" cy="13.90" r="1.35" fill="#a50f15"/>
<circle cx="36.90" cy="25.50" r="1.35" fill="#a50f15"/>
<circle cx="35.20" cy="30.90" r="1.35" fill="#a50f15"/>
<circle cx="43.90" cy="8.00" r="1.35" fill="#a50f15"/>
<circle cx="45.10" cy="12.70" r="1.35" fill="#a50f15"/>
<circle cx="43.20" cy="15.00" r="1.35" fill="#a50f15"/>
<circle cx="45.10" cy="19.70" r="1.35" fill="#a50f15"/>
<circle cx="44.40" cy="27.90" r="1.35" fill="#a50f15"/>
<circle cx="52.10" cy="8.00" r="1.35" fill="#a50f15"/>
<circle cx="59.10" cy="7.30" r="1.35" fill="#a50f15"/>
<circle cx="61.40" cy="18.50" r="1.35" fill="#a50f15"/>
<circle cx="58.60" cy="20.20" r="1.35" fill="#a50f15"/>
<circle cx="62.10" cy="26.00" r="1.35" fill="#a50f15"/>
<circle cx="59.10" cy="32.10" r="1.35" fill="#a50f15"/>
<circle cx="58.60" cy="33.00" r="1.35" fill="#a50f15"/>
<circle cx="59.80" cy="12.70" r="1.25" fill="#e9a0a0"/>
<circle cx="58.60" cy="26.00" r="1.25" fill="#e9a0a0"/>
<circle cx="147.30" cy="8.00" r="1.2" fill="#a50f15"/>
<circle cx="147.30" cy="10.00" r="1.2" fill="#a50f15"/>
<circle cx="147.50" cy="11.50" r="1.2" fill="#a50f15"/>
<circle cx="149.00" cy="7.50" r="1.2" fill="#a50f15"/>
<circle cx="149.00" cy="9.60" r="1.2" fill="#a50f15"/>
<circle cx="149.50" cy="11.60" r="1.2" fill="#a50f15"/>
<circle cx="151.00" cy="7.20" r="1.2" fill="#a50f15"/>
<circle cx="151.00" cy="9.20" r="1.2" fill="#a50f15"/>
<circle cx="151.50" cy="11.30" r="1.2" fill="#a50f15"/>
<circle cx="152.60" cy="6.00" r="1.2" fill="#a50f15"/>
<circle cx="153.00" cy="8.00" r="1.2" fill="#a50f15"/>
<circle cx="153.30" cy="10.00" r="1.2" fill="#a50f15"/>
<circle cx="154.60" cy="5.00" r="1.2" fill="#a50f15"/>
<circle cx="155.40" cy="6.60" r="1.2" fill="#a50f15"/>
<circle cx="155.00" cy="9.30" r="1.2" fill="#a50f15"/>
<circle cx="156.80" cy="5.20" r="1.2" fill="#a50f15"/>
<circle cx="157.60" cy="7.80" r="1.2" fill="#a50f15"/>
<circle cx="157.30" cy="10.20" r="1.2" fill="#a50f15"/>
<circle cx="156.80" cy="12.00" r="1.2" fill="#a50f15"/>
<circle cx="153.60" cy="6.30" r="0.9" fill="#e8101a"/>
<circle cx="155.60" cy="5.20" r="0.9" fill="#e8101a"/>
<circle cx="157.60" cy="9.20" r="0.9" fill="#e8101a"/>
<circle cx="150.20" cy="10.60" r="0.9" fill="#e8101a"/>
<rect x="140.4" y="19.5" width="6.8" height="5" fill="#fff" stroke="#999" stroke-width="0.4"/>
<path d="M141.8,20.8 L145.8,20.8 L143.8,23.5 Z" fill="#111"/>
<text x="140.60" y="31.40" font-size="6.0" fill="#333" text-anchor="middle" stroke="#333" stroke-width="0.1">Dire Dawa</text>
<text x="140.60" y="38.20" font-size="6.0" fill="#333" text-anchor="middle" stroke="#333" stroke-width="0.1">University</text>
<circle cx="156.60" cy="27.50" r="1.2" fill="#e8101a"/>
<circle cx="105.30" cy="9.20" r="1.35" fill="#e8101a"/>
<circle cx="167.50" cy="11.10" r="1.35" fill="#e8101a"/>
<circle cx="171.70" cy="12.60" r="1.35" fill="#e8101a"/>
<circle cx="178.90" cy="6.50" r="1.35" fill="#e8101a"/>
<circle cx="193.10" cy="57.00" r="1.35" fill="#e8101a"/>
<circle cx="183.90" cy="84.30" r="1.35" fill="#e8101a"/>
<circle cx="179.70" cy="90.50" r="1.35" fill="#e8101a"/>
<circle cx="127.50" cy="105.50" r="1.35" fill="#e8101a"/>
<circle cx="137.40" cy="104.70" r="1.35" fill="#e8101a"/>
<circle cx="143.40" cy="101.20" r="1.35" fill="#e8101a"/>
<circle cx="150.30" cy="101.20" r="1.35" fill="#e8101a"/>
<circle cx="133.40" cy="112.90" r="1.35" fill="#e8101a"/>
<circle cx="137.40" cy="120.40" r="1.35" fill="#e8101a"/>
<circle cx="147.80" cy="119.20" r="1.35" fill="#e8101a"/>
<circle cx="152.30" cy="117.20" r="1.35" fill="#e8101a"/>
<circle cx="157.30" cy="114.70" r="1.35" fill="#e8101a"/>
<circle cx="157.80" cy="121.10" r="1.35" fill="#e8101a"/>
<circle cx="171.50" cy="100.50" r="1.35" fill="#e8101a"/>
<circle cx="174.00" cy="100.50" r="1.35" fill="#e8101a"/>
<circle cx="162.30" cy="104.20" r="1.35" fill="#e8101a"/>
<circle cx="172.70" cy="106.70" r="1.35" fill="#e8101a"/>
<circle cx="171.50" cy="109.20" r="1.35" fill="#e8101a"/>
<circle cx="166.50" cy="134.10" r="1.35" fill="#e8101a"/>
<circle cx="171.50" cy="137.80" r="1.35" fill="#e8101a"/>
<circle cx="166.50" cy="144.00" r="1.35" fill="#e8101a"/>
<circle cx="104.20" cy="113.10" r="1.35" fill="#e8101a"/>
<circle cx="155.30" cy="110.50" r="1.35" fill="#a50f15"/>
<circle cx="157.30" cy="110.50" r="1.35" fill="#a50f15"/>
<circle cx="159.00" cy="116.70" r="1.35" fill="#a50f15"/>
<circle cx="163.50" cy="100.50" r="1.35" fill="#a50f15"/>
<circle cx="168.20" cy="98.50" r="1.35" fill="#a50f15"/>
<circle cx="168.20" cy="101.70" r="1.35" fill="#a50f15"/>
<circle cx="164.80" cy="104.70" r="1.35" fill="#a50f15"/>
<circle cx="162.80" cy="126.10" r="1.35" fill="#a50f15"/>
<circle cx="166.00" cy="130.30" r="1.35" fill="#a50f15"/>
<circle cx="167.20" cy="131.60" r="1.35" fill="#a50f15"/>
<circle cx="164.00" cy="142.80" r="1.35" fill="#a50f15"/>
<circle cx="165.30" cy="143.50" r="1.35" fill="#a50f15"/>
<circle cx="158.00" cy="119.00" r="1.35" fill="#a50f15"/>
<circle cx="152.30" cy="77.40" r="1.3" fill="#eaa5a5"/>
<circle cx="145.80" cy="101.70" r="1.3" fill="#eaa5a5"/>
<circle cx="124.20" cy="121.60" r="1.3" fill="#eaa5a5"/>
<circle cx="147.80" cy="127.90" r="1.3" fill="#eaa5a5"/>
<circle cx="154.10" cy="124.10" r="1.3" fill="#eaa5a5"/>
<text x="9.10" y="83.20" font-size="7.6" fill="#1a1a1a" stroke="#1a1a1a" stroke-width="0.1">Overlap of malaria cases and</text>
<text x="9.10" y="92.00" font-size="7.6" fill="#1a1a1a" stroke="#1a1a1a" stroke-width="0.1"><tspan font-style="italic">An. stephensi</tspan> presence</text>
<circle cx="14.80" cy="102.60" r="1.2" fill="#a50f15"/>
<text x="20.50" y="104.50" font-size="6.15" fill="#1a1a1a" stroke="#1a1a1a" stroke-width="0.1">Overlap</text>
<circle cx="14.80" cy="111.20" r="1.2" fill="#e8101a"/>
<text x="20.50" y="113.10" font-size="6.15" fill="#1a1a1a" stroke="#1a1a1a" stroke-width="0.1">Malaria cases only</text>
<circle cx="14.80" cy="120.40" r="1.2" fill="#e9a0a0"/>
<text x="20.50" y="122.30" font-size="6.15" fill="#1a1a1a" stroke="#1a1a1a" stroke-width="0.1"><tspan font-style="italic">An. stephensi</tspan> only</text>
<circle cx="14.80" cy="129.40" r="1.2" fill="none" stroke="#cfcfcf" stroke-width="0.5"/>
<text x="20.50" y="131.30" font-size="6.15" fill="#1a1a1a" stroke="#1a1a1a" stroke-width="0.1">No malaria cases and <tspan font-style="italic">An. stephensi</tspan></text>
<path d="M114.0,143.9 L150.4,143.9 M114.0,142.6 L114.0,145.20000000000002 M132.2,142.6 L132.2,145.20000000000002 M150.4,142.6 L150.4,145.20000000000002" stroke="#555" stroke-width="0.6" fill="none"/>
<text x="114.00" y="139.30" font-size="5.7" fill="#333" text-anchor="middle" stroke="#333" stroke-width="0.1">0</text>
<text x="132.20" y="139.30" font-size="5.7" fill="#333" text-anchor="middle" stroke="#333" stroke-width="0.1">0.5</text>
<text x="149.60" y="139.30" font-size="5.7" fill="#333" stroke="#333" stroke-width="0.1">1 km</text>
<rect x="202.0" y="6.4" width="4.8" height="5.2" fill="#dcdcdc"/>
<path d="M204.6,2.0 L204.6,5.5" stroke="#222" stroke-width="0.7" fill="none"/>
<path d="M204.29999999999998,4.0 L205.9,5.6 L204.29999999999998,5.6 Z" fill="#222"/>
<text transform="translate(204.25,10.7) scale(0.8,1)" font-size="6.2" font-weight="bold" fill="#333" text-anchor="middle">N</text>
<rect x="198.8" y="27.5" width="10" height="5.2" fill="#dcdcdc" opacity="0.8"/>
<path d="M201.0,30.1 L206.60000000000002,30.1 M203.8,27.3 L203.8,32.9" stroke="#2a8cb4" stroke-width="1.05"/>
</g>
<rect x="0" y="0" width="210.0" height="147.3" fill="none" stroke="#a3a3a3" stroke-width="1.2"/>
</g>
<text transform="translate(465.8,10.6) scale(1.13,1)" font-size="13" font-weight="bold" fill="#000" stroke="#000" stroke-width="0.45">c</text>
<path d="M490.4,157.8 L490.4,159.3" stroke="#333" stroke-width="0.5"/>
<text x="494.20" y="167.10" font-size="6.2" fill="#3d3d3d" text-anchor="end" transform="rotate(-45 494.20 167.10)">41° 48' 30&quot; E</text>
<path d="M523.7,157.8 L523.7,159.3" stroke="#333" stroke-width="0.5"/>
<text x="527.50" y="167.10" font-size="6.2" fill="#3d3d3d" text-anchor="end" transform="rotate(-45 527.50 167.10)">41° 49' 0&quot; E</text>
<path d="M557.0,157.8 L557.0,159.3" stroke="#333" stroke-width="0.5"/>
<text x="560.80" y="167.10" font-size="6.2" fill="#3d3d3d" text-anchor="end" transform="rotate(-45 560.80 167.10)">41° 49' 30&quot; E</text>
<path d="M590.4,157.8 L590.4,159.3" stroke="#333" stroke-width="0.5"/>
<text x="594.20" y="167.10" font-size="6.2" fill="#3d3d3d" text-anchor="end" transform="rotate(-45 594.20 167.10)">41° 50' 0&quot; E</text>
<path d="M623.7,157.8 L623.7,159.3" stroke="#333" stroke-width="0.5"/>
<text x="627.50" y="167.10" font-size="6.2" fill="#3d3d3d" text-anchor="end" transform="rotate(-45 627.50 167.10)">41° 50' 30&quot; E</text>
<path d="M657.1,157.8 L657.1,159.3" stroke="#333" stroke-width="0.5"/>
<text x="660.90" y="167.10" font-size="6.2" fill="#3d3d3d" text-anchor="end" transform="rotate(-45 660.90 167.10)">41° 51' 0&quot; E</text>
<path d="M473.0,42.6 L474.5,42.6" stroke="#333" stroke-width="0.5"/>
<text x="471.10" y="42.60" font-size="6.2" fill="#3d3d3d" text-anchor="middle" transform="rotate(-90 471.10 42.60)">9° 37' 0&quot; N</text>
<path d="M473.0,75.8 L474.5,75.8" stroke="#333" stroke-width="0.5"/>
<text x="471.10" y="75.80" font-size="6.2" fill="#3d3d3d" text-anchor="middle" transform="rotate(-90 471.10 75.80)">9° 36' 30&quot; N</text>
<path d="M473.0,109.1 L474.5,109.1" stroke="#333" stroke-width="0.5"/>
<text x="471.10" y="109.10" font-size="6.2" fill="#3d3d3d" text-anchor="middle" transform="rotate(-90 471.10 109.10)">9° 36' 0&quot; N</text>
<path d="M473.0,142.4 L474.5,142.4" stroke="#333" stroke-width="0.5"/>
<text x="471.10" y="142.40" font-size="6.2" fill="#3d3d3d" text-anchor="middle" transform="rotate(-90 471.10 142.40)">9° 35' 30&quot; N</text>
<clipPath id="ce"><rect x="0" y="0" width="210.0" height="147.4"/></clipPath>
<g transform="translate(474.5,220.7)">
<rect x="0" y="0" width="210.0" height="147.4" fill="#ececec"/>
<g clip-path="url(#ce)">
<g transform="translate(-5.3,0.8)">
<path d="M188.5,-2 L218,-2 L218,40 L203,30 L195,15 Z" fill="#e4e4e4"/>
<path d="M196,4 L210,12 M198,10 L214,20 M200,16 L216,28 M204,2 L200,12" stroke="#ececec" stroke-width="1.2" fill="none"/>
<path d="M-5,44 L45,50 L103,70 L152,80 L215,95" stroke="#f8f8f8" stroke-width="1.0" fill="none"/>
<path d="M127,49 L175,62 L215,75" stroke="#f2f2f2" stroke-width="0.8" fill="none"/>
<path d="M130,50 L122,82" stroke="#f2f2f2" stroke-width="0.8" fill="none"/>
<path d="M152,57 L148,80" stroke="#f2f2f2" stroke-width="0.8" fill="none"/>
<path d="M100,68 L95,90" stroke="#f2f2f2" stroke-width="0.8" fill="none"/>
<path d="M60,0 L50,60" stroke="#f2f2f2" stroke-width="0.8" fill="none"/>
<path d="M0,20 L30,30" stroke="#f2f2f2" stroke-width="0.8" fill="none"/>
<path d="M185,75 L215,60" stroke="#f2f2f2" stroke-width="0.8" fill="none"/>
<path d="M178,105 L215,120" stroke="#f2f2f2" stroke-width="0.8" fill="none"/>
<path d="M150,100 L140,148" stroke="#f2f2f2" stroke-width="0.8" fill="none"/>
<path d="M0,110 L40,100" stroke="#f2f2f2" stroke-width="0.8" fill="none"/>
<path d="M110,0 L120,48" stroke="#f2f2f2" stroke-width="0.8" fill="none"/>
<path d="M20,140 L80,120" stroke="#f2f2f2" stroke-width="0.8" fill="none"/>
<path d="M60,148 L90,110" stroke="#f2f2f2" stroke-width="0.8" fill="none"/>
<path d="M184.9,-1 L185.3,2.3 L184.1,5.9 L182.8,9 L182.8,12.2 L183.2,15.8 L185.6,17.9 L186.1,21.6 L187.7,24.7 L189.8,27.3 L191.9,28.4 L192.4,31.5 L194.5,34.6 L196.6,37.3 L198.2,39.9 L198.6,44.6 L201.1,49.1 L202.1,52.5 L201.6,56.5 L200.6,59.5 L201.1,63 L196.1,61 L195.6,62.5 L197.6,65 L203.1,66.3 L201.6,68.5 L200.1,71.4 L200.5,74.6 L199.5,77.1 L197.1,80.1 L194.6,83.1 L192.1,85.5 L189.6,88 L188.1,92 L186.1,93.5 L184.1,94 L182.6,95.5 L181.6,98 L181,101.5 L180.2,103.5 L177.5,105.5 L175.7,104.5 L174.8,102.6 L172.4,102 L170,104.4 L167.6,107.4 L165.3,111 L165.9,114.5 L167.6,117.5 L168.8,121.1 L171.8,121.7 L173.6,122.3 L173.6,125.9 L171.8,129.5 L168.8,131.9 L165.9,132.5 L165.3,135.4 L167.1,139.6 L170.6,142 L173.6,144.4 L174.8,146.8 L175.5,150" stroke="#55c3ee" stroke-width="0.95" fill="none" stroke-linejoin="round"/>
</g>
<rect x="8.8" y="2.4" width="66.2" height="38.6" fill="#eeeeee" stroke="#c4c4c4" stroke-width="0.7"/>
<path d="M75,41 L138,17" stroke="#b3b3b3" stroke-width="0.6"/>
<rect x="6.5" y="32.3" width="8.5" height="6.6" fill="#dedede" opacity="0.7"/>
<rect x="138" y="2.7" width="22.2" height="14.3" fill="#eeeeee" stroke="#c4c4c4" stroke-width="0.7"/>
<polygon points="19.10,17.65 22.90,17.65 21.00,14.35" fill="#1c3a5a"/>
<polygon points="26.10,20.65 29.90,20.65 28.00,17.35" fill="#1c3a5a"/>
<polygon points="32.60,18.15 36.40,18.15 34.50,14.85" fill="#1c3a5a"/>
<polygon points="35.00,15.35 38.80,15.35 36.90,12.05" fill="#1c3a5a"/>
<polygon points="42.00,9.45 45.80,9.45 43.90,6.15" fill="#1c3a5a"/>
<polygon points="42.70,14.65 46.50,14.65 44.60,11.35" fill="#1c3a5a"/>
<polygon points="50.20,9.45 54.00,9.45 52.10,6.15" fill="#1c3a5a"/>
<polygon points="57.90,14.15 61.70,14.15 59.80,10.85" fill="#1c3a5a"/>
<polygon points="56.70,21.85 60.50,21.85 58.60,18.55" fill="#1c3a5a"/>
<polygon points="59.50,28.15 63.30,28.15 61.40,24.85" fill="#1c3a5a"/>
<polygon points="19.10,28.15 22.90,28.15 21.00,24.85" fill="#1c3a5a"/>
<polygon points="18.60,32.15 22.40,32.15 20.50,28.85" fill="#1c3a5a"/>
<polygon points="35.00,27.45 38.80,27.45 36.90,24.15" fill="#1c3a5a"/>
<polygon points="42.00,29.75 45.80,29.75 43.90,26.45" fill="#1c3a5a"/>
<polygon points="33.80,33.25 37.60,33.25 35.70,29.95" fill="#1c3a5a"/>
<polygon points="40.40,36.35 44.20,36.35 42.30,33.05" fill="#1c3a5a"/>
<polygon points="57.20,33.95 61.00,33.95 59.10,30.65" fill="#1c3a5a"/>
<polygon points="57.20,8.75 61.00,8.75 59.10,5.45" fill="#e8101a"/>
<polygon points="41.30,16.45 45.10,16.45 43.20,13.15" fill="#e8101a"/>
<polygon points="43.20,21.65 47.00,21.65 45.10,18.35" fill="#e8101a"/>
<polygon points="27.50,30.05 31.30,30.05 29.40,26.75" fill="#e8101a"/>
<polygon points="56.50,28.15 60.30,28.15 58.40,24.85" fill="#e8101a"/>
<polygon points="50.20,35.65 54.00,35.65 52.10,32.35" fill="#e8101a"/>
<polygon points="53.60,35.65 57.40,35.65 55.50,32.35" fill="#e8101a"/>
<circle cx="146.50" cy="9.00" r="1.25" fill="#1e5d87"/>
<circle cx="147.80" cy="6.80" r="1.25" fill="#1e5d87"/>
<circle cx="148.50" cy="10.80" r="1.25" fill="#1e5d87"/>
<circle cx="149.80" cy="8.20" r="1.25" fill="#1e5d87"/>
<circle cx="151.00" cy="5.60" r="1.25" fill="#1e5d87"/>
<circle cx="151.50" cy="11.50" r="1.25" fill="#1e5d87"/>
<circle cx="152.80" cy="8.60" r="1.25" fill="#1e5d87"/>
<circle cx="154.00" cy="5.00" r="1.25" fill="#1e5d87"/>
<circle cx="154.80" cy="10.80" r="1.25" fill="#1e5d87"/>
<circle cx="155.80" cy="7.60" r="1.25" fill="#1e5d87"/>
<circle cx="157.00" cy="4.60" r="1.25" fill="#1e5d87"/>
<circle cx="157.40" cy="10.20" r="1.25" fill="#1e5d87"/>
<circle cx="148.00" cy="12.40" r="1.25" fill="#1e5d87"/>
<circle cx="151.00" cy="13.00" r="1.25" fill="#1e5d87"/>
<circle cx="153.50" cy="12.60" r="1.25" fill="#1e5d87"/>
<circle cx="156.20" cy="12.20" r="1.25" fill="#1e5d87"/>
<circle cx="157.80" cy="7.20" r="1.25" fill="#1e5d87"/>
<circle cx="153.00" cy="6.50" r="1.25" fill="#1e5d87"/>
<polygon points="149.70,10.13 152.30,10.13 151.00,7.87" fill="#e8101a"/>
<polygon points="152.20,11.63 154.80,11.63 153.50,9.37" fill="#e8101a"/>
<polygon points="154.20,13.13 156.80,13.13 155.50,10.87" fill="#e8101a"/>
<rect x="140.4" y="19.6" width="6.8" height="5" fill="#fff" stroke="#999" stroke-width="0.4"/>
<path d="M141.8,20.9 L145.8,20.9 L143.8,23.6 Z" fill="#111"/>
<text x="140.10" y="31.20" font-size="6.0" fill="#333" text-anchor="middle" stroke="#333" stroke-width="0.1">Dire Dawa</text>
<text x="140.10" y="38.10" font-size="6.0" fill="#333" text-anchor="middle" stroke="#333" stroke-width="0.1">University</text>
<polygon points="154.85,29.73 158.15,29.73 156.50,26.87" fill="#1c3a5a"/>
<polygon points="111.85,11.63 115.15,11.63 113.50,8.77" fill="#1c3a5a"/>
<polygon points="116.30,14.15 120.10,14.15 118.20,10.85" fill="#e8101a"/>
<polygon points="177.05,8.52 180.55,8.52 178.80,5.48" fill="#1c3a5a"/>
<circle cx="171.70" cy="12.80" r="1.3" fill="#1f6f98"/>
<circle cx="31.30" cy="63.50" r="1.3" fill="#1f6f98"/>
<circle cx="192.60" cy="57.10" r="1.3" fill="#1f6f98"/>
<circle cx="195.30" cy="59.00" r="1.3" fill="#1f6f98"/>
<circle cx="178.90" cy="83.00" r="1.3" fill="#1f6f98"/>
<circle cx="183.30" cy="83.80" r="1.3" fill="#1f6f98"/>
<circle cx="186.00" cy="85.20" r="1.3" fill="#1f6f98"/>
<circle cx="188.80" cy="87.10" r="1.3" fill="#1f6f98"/>
<circle cx="178.90" cy="90.70" r="1.3" fill="#1f6f98"/>
<circle cx="181.70" cy="91.80" r="1.3" fill="#1f6f98"/>
<circle cx="178.40" cy="98.60" r="1.3" fill="#1f6f98"/>
<circle cx="168.80" cy="98.00" r="1.3" fill="#1f6f98"/>
<circle cx="172.40" cy="100.80" r="1.3" fill="#1f6f98"/>
<circle cx="164.70" cy="100.00" r="1.3" fill="#1f6f98"/>
<circle cx="163.40" cy="104.30" r="1.3" fill="#1f6f98"/>
<circle cx="167.50" cy="104.30" r="1.3" fill="#1f6f98"/>
<circle cx="161.50" cy="105.30" r="1.3" fill="#1f6f98"/>
<circle cx="170.70" cy="109.00" r="1.3" fill="#1f6f98"/>
<circle cx="142.90" cy="101.30" r="1.3" fill="#1f6f98"/>
<circle cx="150.30" cy="101.30" r="1.3" fill="#1f6f98"/>
<circle cx="136.90" cy="104.90" r="1.3" fill="#1f6f98"/>
<circle cx="133.90" cy="112.30" r="1.3" fill="#1f6f98"/>
<circle cx="104.10" cy="113.10" r="1.3" fill="#1f6f98"/>
<circle cx="157.10" cy="110.90" r="1.3" fill="#1f6f98"/>
<circle cx="155.20" cy="113.10" r="1.3" fill="#1f6f98"/>
<circle cx="157.90" cy="114.40" r="1.3" fill="#1f6f98"/>
<circle cx="156.00" cy="117.20" r="1.3" fill="#1f6f98"/>
<circle cx="152.50" cy="117.70" r="1.3" fill="#1f6f98"/>
<circle cx="148.30" cy="119.10" r="1.3" fill="#1f6f98"/>
<circle cx="157.10" cy="119.90" r="1.3" fill="#1f6f98"/>
<circle cx="163.40" cy="126.20" r="1.3" fill="#1f6f98"/>
<circle cx="166.10" cy="130.80" r="1.3" fill="#1f6f98"/>
<circle cx="166.90" cy="132.20" r="1.3" fill="#1f6f98"/>
<circle cx="170.70" cy="138.20" r="1.3" fill="#1f6f98"/>
<circle cx="164.70" cy="142.60" r="1.3" fill="#1f6f98"/>
<circle cx="166.10" cy="143.70" r="1.3" fill="#1f6f98"/>
<circle cx="159.00" cy="112.00" r="1.3" fill="#1f6f98"/>
<circle cx="154.00" cy="115.00" r="1.3" fill="#1f6f98"/>
<circle cx="165.00" cy="128.00" r="1.3" fill="#1f6f98"/>
<circle cx="168.00" cy="134.00" r="1.3" fill="#1f6f98"/>
<circle cx="84.50" cy="80.90" r="1.3" fill="#e8101a"/>
<circle cx="96.50" cy="92.00" r="1.3" fill="#e8101a"/>
<circle cx="125.90" cy="102.10" r="1.3" fill="#e8101a"/>
<circle cx="137.40" cy="120.40" r="1.3" fill="#e8101a"/>
<circle cx="155.20" cy="124.00" r="1.3" fill="#e8101a"/>
<circle cx="166.40" cy="144.50" r="1.3" fill="#e8101a"/>
<text x="3.20" y="58.80" font-size="7.55" fill="#1a1a1a" stroke="#1a1a1a" stroke-width="0.1">Cluster status</text>
<text x="3.20" y="68.00" font-size="6.1" fill="#1a1a1a" stroke="#1a1a1a" stroke-width="0.1">City</text>
<text x="3.20" y="111.50" font-size="6.1" fill="#1a1a1a" stroke="#1a1a1a" stroke-width="0.1">University</text>
<circle cx="7.60" cy="74.80" r="1.2" fill="#1f6f98"/>
<text x="15.70" y="76.70" font-size="6.07" fill="#1a1a1a" stroke="#1a1a1a" stroke-width="0.1">1 : High relatedness</text>
<circle cx="7.60" cy="83.40" r="1.2" fill="#e8101a"/>
<text x="15.70" y="85.30" font-size="6.07" fill="#1a1a1a" stroke="#1a1a1a" stroke-width="0.1">2 : Low relatedness</text>
<circle cx="7.60" cy="92.20" r="1.2" fill="#d6ecf7"/>
<text x="15.70" y="94.10" font-size="6.07" fill="#1a1a1a" stroke="#1a1a1a" stroke-width="0.1">3 : Unrelated</text>
<circle cx="7.60" cy="100.90" r="1.2" fill="#5aa6e6"/>
<text x="15.70" y="102.80" font-size="6.07" fill="#1a1a1a" stroke="#1a1a1a" stroke-width="0.1">4 : Unrelated</text>
<polygon points="5.65,119.79 9.55,119.79 7.60,116.41" fill="#1c3a5a"/>
<text x="15.70" y="120.20" font-size="6.07" fill="#1a1a1a" stroke="#1a1a1a" stroke-width="0.1">1 : High relatedness</text>
<polygon points="5.65,128.49 9.55,128.49 7.60,125.11" fill="#e8101a"/>
<text x="15.70" y="128.90" font-size="6.07" fill="#1a1a1a" stroke="#1a1a1a" stroke-width="0.1">2 : High relatedness</text>
<polygon points="5.65,137.19 9.55,137.19 7.60,133.81" fill="#e8101a"/>
<text x="15.70" y="137.60" font-size="6.07" fill="#1a1a1a" stroke="#1a1a1a" stroke-width="0.1">2 : Low relatedness</text>
<path d="M3.5,143.9 L11.5,143.9" stroke="#8fd3f2" stroke-width="0.9"/>
<text x="15.70" y="145.80" font-size="6.07" fill="#1a1a1a" stroke="#1a1a1a" stroke-width="0.1">Butiji River</text>
<path d="M113.9,143.7 L150.3,143.7 M113.9,142.39999999999998 L113.9,145.0 M132.1,142.39999999999998 L132.1,145.0 M150.3,142.39999999999998 L150.3,145.0" stroke="#555" stroke-width="0.6" fill="none"/>
<text x="113.90" y="139.10" font-size="5.7" fill="#333" text-anchor="middle" stroke="#333" stroke-width="0.1">0</text>
<text x="132.10" y="139.10" font-size="5.7" fill="#333" text-anchor="middle" stroke="#333" stroke-width="0.1">0.5</text>
<text x="149.50" y="139.10" font-size="5.7" fill="#333" stroke="#333" stroke-width="0.1">1 km</text>
<rect x="202.0" y="6.0" width="4.8" height="5.2" fill="#dcdcdc"/>
<path d="M204.6,1.6 L204.6,5.1" stroke="#222" stroke-width="0.7" fill="none"/>
<path d="M204.29999999999998,3.6 L205.9,5.2 L204.29999999999998,5.2 Z" fill="#222"/>
<text transform="translate(204.25,10.299999999999999) scale(0.8,1)" font-size="6.2" font-weight="bold" fill="#333" text-anchor="middle">N</text>
<rect x="198.8" y="27.2" width="10" height="5.2" fill="#dcdcdc" opacity="0.8"/>
<path d="M201.0,29.8 L206.60000000000002,29.8 M203.8,27.0 L203.8,32.6" stroke="#2a8cb4" stroke-width="1.05"/>
</g>
<rect x="0" y="0" width="210.0" height="147.4" fill="none" stroke="#a3a3a3" stroke-width="1.2"/>
</g>
<text transform="translate(465.9,212.0) scale(1.13,1)" font-size="13" font-weight="bold" fill="#000" stroke="#000" stroke-width="0.45">e</text>
<path d="M490.2,368.1 L490.2,369.6" stroke="#333" stroke-width="0.5"/>
<text x="494.00" y="377.40" font-size="6.2" fill="#3d3d3d" text-anchor="end" transform="rotate(-45 494.00 377.40)">41° 48' 30&quot; E</text>
<path d="M523.3,368.1 L523.3,369.6" stroke="#333" stroke-width="0.5"/>
<text x="527.10" y="377.40" font-size="6.2" fill="#3d3d3d" text-anchor="end" transform="rotate(-45 527.10 377.40)">41° 49' 0&quot; E</text>
<path d="M556.8,368.1 L556.8,369.6" stroke="#333" stroke-width="0.5"/>
<text x="560.60" y="377.40" font-size="6.2" fill="#3d3d3d" text-anchor="end" transform="rotate(-45 560.60 377.40)">41° 49' 30&quot; E</text>
<path d="M590.2,368.1 L590.2,369.6" stroke="#333" stroke-width="0.5"/>
<text x="594.00" y="377.40" font-size="6.2" fill="#3d3d3d" text-anchor="end" transform="rotate(-45 594.00 377.40)">41° 50' 0&quot; E</text>
<path d="M623.6,368.1 L623.6,369.6" stroke="#333" stroke-width="0.5"/>
<text x="627.40" y="377.40" font-size="6.2" fill="#3d3d3d" text-anchor="end" transform="rotate(-45 627.40 377.40)">41° 50' 30&quot; E</text>
<path d="M657.0,368.1 L657.0,369.6" stroke="#333" stroke-width="0.5"/>
<text x="660.80" y="377.40" font-size="6.2" fill="#3d3d3d" text-anchor="end" transform="rotate(-45 660.80 377.40)">41° 51' 0&quot; E</text>
<path d="M473.0,252.3 L474.5,252.3" stroke="#333" stroke-width="0.5"/>
<text x="471.10" y="252.30" font-size="6.2" fill="#3d3d3d" text-anchor="middle" transform="rotate(-90 471.10 252.30)">9° 37' 0&quot; N</text>
<path d="M473.0,285.7 L474.5,285.7" stroke="#333" stroke-width="0.5"/>
<text x="471.10" y="285.70" font-size="6.2" fill="#3d3d3d" text-anchor="middle" transform="rotate(-90 471.10 285.70)">9° 36' 30&quot; N</text>
<path d="M473.0,319.0 L474.5,319.0" stroke="#333" stroke-width="0.5"/>
<text x="471.10" y="319.00" font-size="6.2" fill="#3d3d3d" text-anchor="middle" transform="rotate(-90 471.10 319.00)">9° 36' 0&quot; N</text>
<path d="M473.0,352.4 L474.5,352.4" stroke="#333" stroke-width="0.5"/>
<text x="471.10" y="352.40" font-size="6.2" fill="#3d3d3d" text-anchor="middle" transform="rotate(-90 471.10 352.40)">9° 35' 30&quot; N</text>
<text transform="translate(-0.9,211.5) scale(1.13,1)" font-size="13" font-weight="bold" fill="#000" stroke="#000" stroke-width="0.45">d</text>
<path d="M113.3,239.5 L113.3,372" stroke="#cfcfcf" stroke-width="0.5" stroke-dasharray="0.7,0.9"/>
<path d="M188.0,239.5 L188.0,372" stroke="#cfcfcf" stroke-width="0.5" stroke-dasharray="0.7,0.9"/>
<path d="M265.2,239.5 L265.2,372" stroke="#cfcfcf" stroke-width="0.5" stroke-dasharray="0.7,0.9"/>
<path d="M96,238.1 L303,238.1" stroke="#ebebeb" stroke-width="0.8"/>
<rect x="106.60" y="230.50" width="2.20" height="7.30" fill="#595959"/>
<rect x="108.80" y="226.85" width="2.10" height="10.95" fill="#595959"/>
<rect x="113.00" y="230.50" width="1.90" height="7.30" fill="#595959"/>
<rect x="114.90" y="223.20" width="2.20" height="14.60" fill="#595959"/>
<rect x="121.00" y="234.15" width="2.20" height="3.65" fill="#595959"/>
<rect x="125.20" y="219.55" width="2.10" height="18.25" fill="#595959"/>
<rect x="127.30" y="226.85" width="2.30" height="10.95" fill="#595959"/>
<rect x="129.60" y="234.15" width="4.10" height="3.65" fill="#595959"/>
<rect x="138.00" y="234.15" width="4.00" height="3.65" fill="#595959"/>
<rect x="142.00" y="230.50" width="1.80" height="7.30" fill="#595959"/>
<rect x="143.80" y="234.15" width="2.20" height="3.65" fill="#595959"/>
<rect x="154.70" y="226.85" width="2.20" height="10.95" fill="#595959"/>
<rect x="156.90" y="230.50" width="2.20" height="7.30" fill="#595959"/>
<rect x="159.10" y="234.15" width="1.70" height="3.65" fill="#595959"/>
<rect x="179.90" y="234.15" width="6.10" height="3.65" fill="#595959"/>
<rect x="192.00" y="219.55" width="2.20" height="18.25" fill="#595959"/>
<rect x="194.20" y="234.15" width="2.20" height="3.65" fill="#595959"/>
<rect x="196.40" y="208.60" width="4.40" height="29.20" fill="#595959"/>
<rect x="202.50" y="226.85" width="2.50" height="10.95" fill="#595959"/>
<rect x="206.90" y="223.20" width="2.20" height="14.60" fill="#595959"/>
<rect x="209.10" y="230.50" width="2.00" height="7.30" fill="#595959"/>
<rect x="211.10" y="223.20" width="1.90" height="14.60" fill="#595959"/>
<rect x="215.00" y="208.60" width="2.40" height="29.20" fill="#595959"/>
<rect x="217.40" y="234.15" width="1.80" height="3.65" fill="#595959"/>
<rect x="223.10" y="226.85" width="2.60" height="10.95" fill="#595959"/>
<rect x="227.70" y="230.50" width="2.10" height="7.30" fill="#595959"/>
<rect x="229.80" y="219.55" width="2.30" height="18.25" fill="#595959"/>
<rect x="234.00" y="223.20" width="2.20" height="14.60" fill="#595959"/>
<rect x="246.30" y="230.50" width="2.50" height="7.30" fill="#595959"/>
<rect x="248.80" y="215.90" width="2.10" height="21.90" fill="#595959"/>
<rect x="254.90" y="234.15" width="2.00" height="3.65" fill="#595959"/>
<rect x="259.10" y="234.15" width="1.90" height="3.65" fill="#595959"/>
<rect x="261.00" y="215.90" width="2.20" height="21.90" fill="#595959"/>
<rect x="263.20" y="226.85" width="1.90" height="10.95" fill="#595959"/>
<rect x="269.20" y="230.50" width="2.30" height="7.30" fill="#595959"/>
<rect x="271.50" y="212.25" width="2.20" height="25.55" fill="#595959"/>
<rect x="282.00" y="234.15" width="1.80" height="3.65" fill="#595959"/>
<rect x="283.80" y="219.55" width="2.20" height="18.25" fill="#595959"/>
<rect x="286.00" y="234.15" width="2.20" height="3.65" fill="#595959"/>
<rect x="288.20" y="230.50" width="1.90" height="7.30" fill="#595959"/>
<rect x="95.8" y="246.7" width="207.0" height="17.2" fill="#dde8f6"/>
<rect x="95.8" y="281.0" width="207.0" height="17.2" fill="#d3f0f0"/>
<rect x="95.8" y="315.3" width="207.0" height="17.2" fill="#fccfd3"/>
<rect x="95.8" y="349.7" width="207.0" height="17.2" fill="#cfdae3"/>
<path d="M113.3,246 L113.3,368" stroke="#bfc8d0" stroke-width="0.5" stroke-dasharray="1,1" opacity="0.5"/>
<path d="M188.0,246 L188.0,368" stroke="#bfc8d0" stroke-width="0.5" stroke-dasharray="1,1" opacity="0.5"/>
<path d="M265.2,246 L265.2,368" stroke="#bfc8d0" stroke-width="0.5" stroke-dasharray="1,1" opacity="0.5"/>
<text x="1.30" y="257.80" font-size="8.75" fill="#1a1a1a" stroke="#1a1a1a" stroke-width="0.1">Lineage 4</text>
<text x="1.30" y="292.10" font-size="8.75" fill="#1a1a1a" stroke="#1a1a1a" stroke-width="0.1">Lineage 3</text>
<text x="1.30" y="326.40" font-size="8.75" fill="#1a1a1a" stroke="#1a1a1a" stroke-width="0.1">Lineage 2</text>
<text x="1.30" y="360.80" font-size="8.75" fill="#1a1a1a" stroke="#1a1a1a" stroke-width="0.1">Lineage 1</text>
<circle cx="200.10" cy="255.40" r="1.25" fill="#4a90d9"/>
<circle cx="197.90" cy="289.70" r="1.25" fill="#1fb5c3"/>
<circle cx="61.40" cy="256.60" r="0.85" fill="#4a90d9"/>
<circle cx="62.00" cy="290.20" r="0.85" fill="#1fb5c3"/>
<path d="M53.4,327.4 L60,307.8" stroke="#9cc3e0" stroke-width="0.6"/>
<path d="M53.4,327.4 L70.4,328" stroke="#9cc3e0" stroke-width="0.6"/>
<path d="M70.4,328 L79.2,315.9" stroke="#9cc3e0" stroke-width="0.6"/>
<path d="M70.4,328 L77.9,329.9" stroke="#9cc3e0" stroke-width="0.6"/>
<path d="M70.4,328 L78.8,338.2" stroke="#9cc3e0" stroke-width="0.6"/>
<path d="M77.9,329.9 L78.8,338.2" stroke="#9cc3e0" stroke-width="0.6"/>
<path d="M49,329 L53.4,327.4" stroke="#9cc3e0" stroke-width="0.6"/>
<circle cx="53.40" cy="327.40" r="0.9" fill="#e8213a"/>
<circle cx="60.00" cy="307.80" r="0.9" fill="#e8213a"/>
<circle cx="70.40" cy="328.00" r="0.9" fill="#e8213a"/>
<circle cx="79.20" cy="315.90" r="0.9" fill="#e8213a"/>
<circle cx="77.90" cy="329.90" r="0.9" fill="#e8213a"/>
<circle cx="78.80" cy="338.20" r="0.9" fill="#e8213a"/>
<circle cx="48.00" cy="324.30" r="1.05" fill="#e0294a" stroke="#b01a45" stroke-width="0.35"/>
<circle cx="50.00" cy="325.40" r="1.05" fill="#e0294a" stroke="#b01a45" stroke-width="0.35"/>
<circle cx="46.20" cy="326.20" r="1.05" fill="#e0294a" stroke="#b01a45" stroke-width="0.35"/>
<circle cx="48.40" cy="327.00" r="1.05" fill="#e0294a" stroke="#b01a45" stroke-width="0.35"/>
<circle cx="50.40" cy="328.20" r="1.05" fill="#e0294a" stroke="#b01a45" stroke-width="0.35"/>
<circle cx="46.00" cy="328.80" r="1.05" fill="#e0294a" stroke="#b01a45" stroke-width="0.35"/>
<circle cx="48.20" cy="329.60" r="1.05" fill="#e0294a" stroke="#b01a45" stroke-width="0.35"/>
<circle cx="50.20" cy="330.80" r="1.05" fill="#e0294a" stroke="#b01a45" stroke-width="0.35"/>
<circle cx="45.40" cy="331.40" r="1.05" fill="#e0294a" stroke="#b01a45" stroke-width="0.35"/>
<circle cx="47.60" cy="332.20" r="1.05" fill="#e0294a" stroke="#b01a45" stroke-width="0.35"/>
<circle cx="49.80" cy="333.20" r="1.05" fill="#e0294a" stroke="#b01a45" stroke-width="0.35"/>
<circle cx="46.40" cy="334.20" r="1.05" fill="#e0294a" stroke="#b01a45" stroke-width="0.35"/>
<circle cx="48.60" cy="335.00" r="1.05" fill="#e0294a" stroke="#b01a45" stroke-width="0.35"/>
<circle cx="44.80" cy="329.40" r="1.05" fill="#e0294a" stroke="#b01a45" stroke-width="0.35"/>
<path d="M50.5,343.5 L58,340.6 L68,341 L74.8,344 L79,349.3 L79.7,357 L78,363.8 L71.8,369 L63,371.2 L54.3,370 L47.5,365.6 L44.8,358 L45.3,349.3 Z" fill="#8a37a2"/>
<circle cx="79.60" cy="355.70" r="0.8" fill="#22577a"/>
<circle cx="79.42" cy="357.89" r="0.8" fill="#22577a"/>
<circle cx="78.90" cy="360.04" r="0.8" fill="#22577a"/>
<circle cx="78.03" cy="362.10" r="0.8" fill="#22577a"/>
<circle cx="76.84" cy="364.03" r="0.8" fill="#22577a"/>
<circle cx="75.35" cy="365.78" r="0.8" fill="#22577a"/>
<circle cx="73.59" cy="367.34" r="0.8" fill="#22577a"/>
<circle cx="71.61" cy="368.66" r="0.8" fill="#22577a"/>
<circle cx="69.43" cy="369.71" r="0.8" fill="#22577a"/>
<circle cx="67.10" cy="370.48" r="0.8" fill="#22577a"/>
<circle cx="64.68" cy="370.94" r="0.8" fill="#22577a"/>
<circle cx="62.20" cy="371.10" r="0.8" fill="#22577a"/>
<circle cx="59.72" cy="370.94" r="0.8" fill="#22577a"/>
<circle cx="57.30" cy="370.48" r="0.8" fill="#22577a"/>
<circle cx="54.97" cy="369.71" r="0.8" fill="#22577a"/>
<circle cx="52.79" cy="368.66" r="0.8" fill="#22577a"/>
<circle cx="50.81" cy="367.34" r="0.8" fill="#22577a"/>
<circle cx="49.05" cy="365.78" r="0.8" fill="#22577a"/>
<circle cx="47.56" cy="364.03" r="0.8" fill="#22577a"/>
<circle cx="46.37" cy="362.10" r="0.8" fill="#22577a"/>
<circle cx="45.50" cy="360.04" r="0.8" fill="#22577a"/>
<circle cx="44.98" cy="357.89" r="0.8" fill="#22577a"/>
<circle cx="44.80" cy="355.70" r="0.8" fill="#22577a"/>
<circle cx="44.98" cy="353.51" r="0.8" fill="#22577a"/>
<circle cx="45.50" cy="351.36" r="0.8" fill="#22577a"/>
<circle cx="46.37" cy="349.30" r="0.8" fill="#22577a"/>
<circle cx="47.56" cy="347.37" r="0.8" fill="#22577a"/>
<circle cx="49.05" cy="345.62" r="0.8" fill="#22577a"/>
<circle cx="50.81" cy="344.06" r="0.8" fill="#22577a"/>
<circle cx="52.79" cy="342.74" r="0.8" fill="#22577a"/>
<circle cx="54.97" cy="341.69" r="0.8" fill="#22577a"/>
<circle cx="57.30" cy="340.92" r="0.8" fill="#22577a"/>
<circle cx="59.72" cy="340.46" r="0.8" fill="#22577a"/>
<circle cx="62.20" cy="340.30" r="0.8" fill="#22577a"/>
<circle cx="64.68" cy="340.46" r="0.8" fill="#22577a"/>
<circle cx="67.10" cy="340.92" r="0.8" fill="#22577a"/>
<circle cx="69.43" cy="341.69" r="0.8" fill="#22577a"/>
<circle cx="71.61" cy="342.74" r="0.8" fill="#22577a"/>
<circle cx="73.59" cy="344.06" r="0.8" fill="#22577a"/>
<circle cx="75.35" cy="345.62" r="0.8" fill="#22577a"/>
<circle cx="76.84" cy="347.37" r="0.8" fill="#22577a"/>
<circle cx="78.03" cy="349.30" r="0.8" fill="#22577a"/>
<circle cx="78.90" cy="351.36" r="0.8" fill="#22577a"/>
<circle cx="79.42" cy="353.51" r="0.8" fill="#22577a"/>
<circle cx="59.30" cy="361.12" r="0.88" fill="#22577a"/>
<circle cx="59.58" cy="352.78" r="0.88" fill="#22577a"/>
<circle cx="52.37" cy="354.01" r="0.88" fill="#22577a"/>
<circle cx="73.30" cy="359.74" r="0.88" fill="#22577a"/>
<circle cx="66.75" cy="357.89" r="0.88" fill="#22577a"/>
<circle cx="48.70" cy="362.12" r="0.88" fill="#22577a"/>
<circle cx="67.82" cy="360.89" r="0.88" fill="#22577a"/>
<circle cx="50.89" cy="345.70" r="0.88" fill="#22577a"/>
<circle cx="52.90" cy="351.68" r="0.88" fill="#22577a"/>
<circle cx="65.76" cy="355.53" r="0.88" fill="#22577a"/>
<circle cx="67.86" cy="349.84" r="0.88" fill="#22577a"/>
<circle cx="65.73" cy="359.98" r="0.88" fill="#22577a"/>
<circle cx="56.79" cy="368.43" r="0.88" fill="#22577a"/>
<circle cx="67.56" cy="366.20" r="0.88" fill="#22577a"/>
<circle cx="55.66" cy="349.11" r="0.88" fill="#22577a"/>
<circle cx="58.21" cy="354.91" r="0.88" fill="#22577a"/>
<circle cx="69.25" cy="358.45" r="0.88" fill="#22577a"/>
<circle cx="57.58" cy="347.27" r="0.88" fill="#22577a"/>
<circle cx="53.46" cy="358.34" r="0.88" fill="#22577a"/>
<circle cx="66.04" cy="344.15" r="0.88" fill="#22577a"/>
<circle cx="62.67" cy="367.17" r="0.88" fill="#22577a"/>
<circle cx="46.79" cy="353.83" r="0.88" fill="#22577a"/>
<circle cx="61.05" cy="348.15" r="0.88" fill="#22577a"/>
<circle cx="68.94" cy="364.42" r="0.88" fill="#22577a"/>
<circle cx="75.43" cy="358.94" r="0.88" fill="#22577a"/>
<circle cx="63.35" cy="344.89" r="0.88" fill="#22577a"/>
<circle cx="70.89" cy="343.90" r="0.88" fill="#22577a"/>
<circle cx="48.78" cy="357.95" r="0.88" fill="#22577a"/>
<circle cx="51.92" cy="363.93" r="0.88" fill="#22577a"/>
<circle cx="73.42" cy="357.42" r="0.88" fill="#22577a"/>
<circle cx="68.74" cy="343.57" r="0.88" fill="#22577a"/>
<circle cx="60.29" cy="365.35" r="0.88" fill="#22577a"/>
<circle cx="52.29" cy="366.75" r="0.88" fill="#22577a"/>
<circle cx="68.45" cy="354.50" r="0.88" fill="#22577a"/>
<circle cx="65.79" cy="362.35" r="0.88" fill="#22577a"/>
<circle cx="75.47" cy="352.44" r="0.88" fill="#22577a"/>
<circle cx="49.15" cy="354.87" r="0.88" fill="#22577a"/>
<circle cx="74.10" cy="348.32" r="0.88" fill="#22577a"/>
<circle cx="72.71" cy="346.66" r="0.88" fill="#22577a"/>
<circle cx="53.98" cy="361.83" r="0.88" fill="#22577a"/>
<circle cx="72.77" cy="363.11" r="0.88" fill="#22577a"/>
<circle cx="60.15" cy="358.85" r="0.88" fill="#22577a"/>
<circle cx="70.28" cy="361.29" r="0.88" fill="#22577a"/>
<circle cx="77.60" cy="358.20" r="0.88" fill="#22577a"/>
<circle cx="57.35" cy="352.27" r="0.88" fill="#22577a"/>
<circle cx="57.48" cy="362.34" r="0.88" fill="#22577a"/>
<circle cx="65.39" cy="350.79" r="0.88" fill="#22577a"/>
<circle cx="55.91" cy="355.00" r="0.88" fill="#22577a"/>
<circle cx="69.50" cy="367.23" r="0.88" fill="#22577a"/>
<circle cx="72.94" cy="353.34" r="0.88" fill="#22577a"/>
<circle cx="77.50" cy="350.35" r="0.88" fill="#22577a"/>
<circle cx="63.67" cy="362.90" r="0.88" fill="#22577a"/>
<circle cx="68.42" cy="347.39" r="0.88" fill="#22577a"/>
<circle cx="53.66" cy="345.19" r="0.88" fill="#22577a"/>
<circle cx="54.80" cy="367.46" r="0.88" fill="#22577a"/>
<circle cx="48.98" cy="364.33" r="0.88" fill="#22577a"/>
<circle cx="54.91" cy="364.82" r="0.88" fill="#22577a"/>
<circle cx="63.55" cy="357.29" r="0.88" fill="#22577a"/>
<circle cx="73.02" cy="366.32" r="0.88" fill="#22577a"/>
<circle cx="48.46" cy="348.99" r="0.88" fill="#22577a"/>
<circle cx="60.27" cy="345.13" r="0.88" fill="#22577a"/>
<circle cx="48.31" cy="351.54" r="0.88" fill="#22577a"/>
<circle cx="71.67" cy="350.87" r="0.88" fill="#22577a"/>
<circle cx="53.18" cy="349.19" r="0.88" fill="#22577a"/>
<circle cx="50.56" cy="359.18" r="0.88" fill="#22577a"/>
<circle cx="46.17" cy="357.97" r="0.88" fill="#22577a"/>
<circle cx="57.30" cy="342.89" r="0.88" fill="#22577a"/>
<circle cx="65.29" cy="370.13" r="0.88" fill="#22577a"/>
<circle cx="77.39" cy="355.14" r="0.88" fill="#22577a"/>
<circle cx="61.79" cy="353.97" r="0.88" fill="#22577a"/>
<circle cx="77.43" cy="361.75" r="0.88" fill="#22577a"/>
<circle cx="66.13" cy="341.89" r="0.88" fill="#22577a"/>
<circle cx="75.55" cy="362.85" r="0.88" fill="#22577a"/>
<circle cx="61.53" cy="361.27" r="0.88" fill="#22577a"/>
<circle cx="60.84" cy="370.41" r="0.88" fill="#22577a"/>
<circle cx="70.77" cy="356.24" r="0.88" fill="#22577a"/>
<circle cx="60.68" cy="342.78" r="0.88" fill="#22577a"/>
<circle cx="61.24" cy="356.06" r="0.88" fill="#22577a"/>
<circle cx="51.89" cy="356.35" r="0.88" fill="#22577a"/>
<circle cx="56.58" cy="357.07" r="0.88" fill="#22577a"/>
<circle cx="65.31" cy="366.90" r="0.88" fill="#22577a"/>
<circle cx="69.52" cy="351.40" r="0.88" fill="#22577a"/>
<circle cx="75.01" cy="355.91" r="0.88" fill="#22577a"/>
<circle cx="58.62" cy="369.91" r="0.88" fill="#22577a"/>
<circle cx="51.85" cy="361.50" r="0.88" fill="#22577a"/>
<circle cx="56.18" cy="360.51" r="0.88" fill="#22577a"/>
<circle cx="59.15" cy="350.02" r="0.88" fill="#22577a"/>
<circle cx="63.14" cy="351.94" r="0.88" fill="#22577a"/>
<circle cx="57.40" cy="366.26" r="0.88" fill="#22577a"/>
<circle cx="67.93" cy="369.70" r="0.88" fill="#22577a"/>
<circle cx="70.88" cy="348.13" r="0.88" fill="#22577a"/>
<circle cx="50.54" cy="349.83" r="0.88" fill="#22577a"/>
<circle cx="63.46" cy="341.46" r="0.88" fill="#22577a"/>
<circle cx="65.98" cy="353.25" r="0.88" fill="#22577a"/>
<circle cx="54.92" cy="343.32" r="0.88" fill="#22577a"/>
<circle cx="64.03" cy="346.95" r="0.88" fill="#22577a"/>
<circle cx="78.43" cy="352.87" r="0.88" fill="#22577a"/>
<circle cx="62.90" cy="359.46" r="0.88" fill="#22577a"/>
<circle cx="70.72" cy="353.60" r="0.88" fill="#22577a"/>
<circle cx="60.24" cy="363.06" r="0.88" fill="#22577a"/>
<circle cx="65.90" cy="348.56" r="0.88" fill="#22577a"/>
<circle cx="46.81" cy="361.07" r="0.88" fill="#22577a"/>
<circle cx="59.38" cy="367.73" r="0.88" fill="#22577a"/>
<circle cx="63.04" cy="364.97" r="0.88" fill="#22577a"/>
<circle cx="51.49" cy="347.76" r="0.88" fill="#22577a"/>
<circle cx="50.31" cy="353.02" r="0.88" fill="#22577a"/>
<circle cx="55.89" cy="345.25" r="0.88" fill="#22577a"/>
<circle cx="55.09" cy="352.62" r="0.88" fill="#22577a"/>
<circle cx="61.03" cy="351.10" r="0.88" fill="#22577a"/>
<circle cx="63.13" cy="369.62" r="0.88" fill="#22577a"/>
<circle cx="63.23" cy="349.18" r="0.88" fill="#22577a"/>
<circle cx="66.26" cy="346.44" r="0.88" fill="#22577a"/>
<circle cx="71.32" cy="364.78" r="0.88" fill="#22577a"/>
<circle cx="74.21" cy="350.66" r="0.88" fill="#22577a"/>
<circle cx="71.52" cy="368.03" r="0.88" fill="#22577a"/>
<circle cx="66.07" cy="364.51" r="0.88" fill="#22577a"/>
<circle cx="58.00" cy="359.31" r="0.88" fill="#22577a"/>
<circle cx="58.82" cy="357.04" r="0.88" fill="#22577a"/>
<circle cx="47.14" cy="355.95" r="0.88" fill="#22577a"/>
<circle cx="71.48" cy="358.57" r="0.88" fill="#22577a"/>
<circle cx="74.66" cy="364.89" r="0.88" fill="#22577a"/>
<circle cx="58.07" cy="345.12" r="0.88" fill="#22577a"/>
<circle cx="76.25" cy="348.41" r="0.88" fill="#22577a"/>
<circle cx="69.91" cy="345.84" r="0.88" fill="#22577a"/>
<circle cx="63.98" cy="354.09" r="0.88" fill="#22577a"/>
<circle cx="115.90" cy="323.70" r="1.0" fill="#e8101a" stroke="#5a0010" stroke-width="0.4"/>
<circle cx="141.00" cy="323.70" r="1.0" fill="#e8101a" stroke="#5a0010" stroke-width="0.4"/>
<circle cx="202.80" cy="323.70" r="1.0" fill="#e8101a" stroke="#5a0010" stroke-width="0.4"/>
<circle cx="196.00" cy="323.70" r="1.0" fill="#e8101a" stroke="#5a0010" stroke-width="0.4"/>
<polygon points="190.60,323.61 193.40,323.61 192.00,321.19" fill="#e8101a" stroke="#5a0010" stroke-width="0.4" stroke-linejoin="round"/>
<polygon points="190.60,326.21 193.40,326.21 192.00,323.79" fill="#e8101a" stroke="#5a0010" stroke-width="0.4" stroke-linejoin="round"/>
<polygon points="192.60,324.91 195.40,324.91 194.00,322.49" fill="#e8101a" stroke="#5a0010" stroke-width="0.4" stroke-linejoin="round"/>
<circle cx="197.60" cy="322.40" r="1.0" fill="#e8101a"/>
<circle cx="197.60" cy="325.00" r="1.0" fill="#e8101a"/>
<polygon points="197.80,324.91 200.60,324.91 199.20,322.49" fill="#e8101a" stroke="#5a0010" stroke-width="0.4" stroke-linejoin="round"/>
<polygon points="206.10,324.91 208.90,324.91 207.50,322.49" fill="#e8101a" stroke="#5a0010" stroke-width="0.4" stroke-linejoin="round"/>
<polygon points="211.30,324.91 214.10,324.91 212.70,322.49" fill="#e8101a" stroke="#5a0010" stroke-width="0.4" stroke-linejoin="round"/>
<polygon points="223.40,324.91 226.20,324.91 224.80,322.49" fill="#e8101a" stroke="#5a0010" stroke-width="0.4" stroke-linejoin="round"/>
<polygon points="225.40,324.91 228.20,324.91 226.80,322.49" fill="#e8101a" stroke="#5a0010" stroke-width="0.4" stroke-linejoin="round"/>
<polygon points="227.40,324.91 230.20,324.91 228.80,322.49" fill="#e8101a" stroke="#5a0010" stroke-width="0.4" stroke-linejoin="round"/>
<circle cx="230.40" cy="323.70" r="1.0" fill="#e8101a" stroke="#5a0010" stroke-width="0.4"/>
<polygon points="248.70,324.91 251.50,324.91 250.10,322.49" fill="#e8101a"/>
<polygon points="271.00,323.01 273.80,323.01 272.40,320.59" fill="#e8101a" stroke="#5a0010" stroke-width="0.4" stroke-linejoin="round"/>
<polygon points="271.00,324.91 273.80,324.91 272.40,322.49" fill="#e8101a" stroke="#5a0010" stroke-width="0.4" stroke-linejoin="round"/>
<polygon points="271.00,326.81 273.80,326.81 272.40,324.39" fill="#e8101a" stroke="#5a0010" stroke-width="0.4" stroke-linejoin="round"/>
<polygon points="282.20,323.41 285.00,323.41 283.60,320.99" fill="#e8101a" stroke="#5a0010" stroke-width="0.4" stroke-linejoin="round"/>
<polygon points="282.20,326.41 285.00,326.41 283.60,323.99" fill="#e8101a" stroke="#5a0010" stroke-width="0.4" stroke-linejoin="round"/>
<polygon points="284.20,324.91 287.00,324.91 285.60,322.49" fill="#e8101a" stroke="#5a0010" stroke-width="0.4" stroke-linejoin="round"/>
<polygon points="286.60,324.91 289.40,324.91 288.00,322.49" fill="#e8101a"/>
<circle cx="107.20" cy="356.40" r="0.8" fill="#24527a" stroke="#07131f" stroke-width="0.45"/>
<circle cx="107.20" cy="358.20" r="0.8" fill="#24527a" stroke="#07131f" stroke-width="0.45"/>
<circle cx="107.20" cy="360.00" r="0.8" fill="#24527a" stroke="#07131f" stroke-width="0.45"/>
<circle cx="108.90" cy="355.50" r="0.8" fill="#24527a" stroke="#07131f" stroke-width="0.45"/>
<circle cx="108.90" cy="357.30" r="0.8" fill="#24527a" stroke="#07131f" stroke-width="0.45"/>
<circle cx="108.90" cy="359.10" r="0.8" fill="#24527a" stroke="#07131f" stroke-width="0.45"/>
<circle cx="108.90" cy="360.90" r="0.8" fill="#24527a" stroke="#07131f" stroke-width="0.45"/>
<circle cx="110.60" cy="355.50" r="0.8" fill="#24527a" stroke="#07131f" stroke-width="0.45"/>
<circle cx="110.60" cy="357.30" r="0.8" fill="#24527a" stroke="#07131f" stroke-width="0.45"/>
<circle cx="110.60" cy="359.10" r="0.8" fill="#24527a" stroke="#07131f" stroke-width="0.45"/>
<circle cx="110.60" cy="360.90" r="0.8" fill="#24527a" stroke="#07131f" stroke-width="0.45"/>
<circle cx="112.40" cy="356.40" r="0.8" fill="#24527a" stroke="#07131f" stroke-width="0.45"/>
<circle cx="112.40" cy="358.20" r="0.8" fill="#24527a" stroke="#07131f" stroke-width="0.45"/>
<circle cx="112.40" cy="360.00" r="0.8" fill="#24527a" stroke="#07131f" stroke-width="0.45"/>
<circle cx="114.30" cy="355.50" r="0.8" fill="#24527a" stroke="#07131f" stroke-width="0.45"/>
<circle cx="114.30" cy="357.30" r="0.8" fill="#24527a" stroke="#07131f" stroke-width="0.45"/>
<circle cx="114.30" cy="359.10" r="0.8" fill="#24527a" stroke="#07131f" stroke-width="0.45"/>
<circle cx="114.30" cy="360.90" r="0.8" fill="#24527a" stroke="#07131f" stroke-width="0.45"/>
<circle cx="116.10" cy="355.50" r="0.8" fill="#24527a" stroke="#07131f" stroke-width="0.45"/>
<circle cx="116.10" cy="357.30" r="0.8" fill="#24527a" stroke="#07131f" stroke-width="0.45"/>
<circle cx="116.10" cy="359.10" r="0.8" fill="#24527a" stroke="#07131f" stroke-width="0.45"/>
<circle cx="116.10" cy="360.90" r="0.8" fill="#24527a" stroke="#07131f" stroke-width="0.45"/>
<circle cx="122.00" cy="358.20" r="0.8" fill="#24527a" stroke="#07131f" stroke-width="0.45"/>
<circle cx="123.80" cy="356.40" r="0.8" fill="#24527a" stroke="#07131f" stroke-width="0.45"/>
<circle cx="123.80" cy="358.20" r="0.8" fill="#24527a" stroke="#07131f" stroke-width="0.45"/>
<circle cx="123.80" cy="360.00" r="0.8" fill="#24527a" stroke="#07131f" stroke-width="0.45"/>
<circle cx="125.50" cy="352.80" r="0.8" fill="#24527a" stroke="#07131f" stroke-width="0.45"/>
<circle cx="125.50" cy="354.60" r="0.8" fill="#24527a" stroke="#07131f" stroke-width="0.45"/>
<circle cx="125.50" cy="356.40" r="0.8" fill="#24527a" stroke="#07131f" stroke-width="0.45"/>
<circle cx="125.50" cy="358.20" r="0.8" fill="#24527a" stroke="#07131f" stroke-width="0.45"/>
<circle cx="125.50" cy="360.00" r="0.8" fill="#24527a" stroke="#07131f" stroke-width="0.45"/>
<circle cx="125.50" cy="361.80" r="0.8" fill="#24527a" stroke="#07131f" stroke-width="0.45"/>
<circle cx="125.50" cy="363.60" r="0.8" fill="#24527a" stroke="#07131f" stroke-width="0.45"/>
<circle cx="127.20" cy="354.60" r="0.8" fill="#24527a" stroke="#07131f" stroke-width="0.45"/>
<circle cx="127.20" cy="356.40" r="0.8" fill="#24527a" stroke="#07131f" stroke-width="0.45"/>
<circle cx="127.20" cy="358.20" r="0.8" fill="#24527a" stroke="#07131f" stroke-width="0.45"/>
<circle cx="127.20" cy="360.00" r="0.8" fill="#24527a" stroke="#07131f" stroke-width="0.45"/>
<circle cx="127.20" cy="361.80" r="0.8" fill="#24527a" stroke="#07131f" stroke-width="0.45"/>
<circle cx="129.00" cy="356.40" r="0.8" fill="#24527a" stroke="#07131f" stroke-width="0.45"/>
<circle cx="129.00" cy="358.20" r="0.8" fill="#24527a" stroke="#07131f" stroke-width="0.45"/>
<circle cx="129.00" cy="360.00" r="0.8" fill="#24527a" stroke="#07131f" stroke-width="0.45"/>
<circle cx="130.80" cy="358.20" r="0.8" fill="#24527a" stroke="#07131f" stroke-width="0.45"/>
<circle cx="132.60" cy="358.20" r="0.8" fill="#24527a" stroke="#07131f" stroke-width="0.45"/>
<circle cx="134.20" cy="358.20" r="0.8" fill="#24527a" stroke="#07131f" stroke-width="0.45"/>
<circle cx="138.00" cy="358.20" r="0.8" fill="#24527a" stroke="#07131f" stroke-width="0.45"/>
<circle cx="142.00" cy="356.40" r="0.8" fill="#24527a" stroke="#07131f" stroke-width="0.45"/>
<circle cx="142.00" cy="358.20" r="0.8" fill="#24527a" stroke="#07131f" stroke-width="0.45"/>
<circle cx="142.00" cy="360.00" r="0.8" fill="#24527a" stroke="#07131f" stroke-width="0.45"/>
<circle cx="143.80" cy="357.30" r="0.8" fill="#24527a" stroke="#07131f" stroke-width="0.45"/>
<circle cx="143.80" cy="359.10" r="0.8" fill="#24527a" stroke="#07131f" stroke-width="0.45"/>
<circle cx="145.60" cy="358.20" r="0.8" fill="#24527a" stroke="#07131f" stroke-width="0.45"/>
<circle cx="154.50" cy="354.60" r="0.8" fill="#24527a" stroke="#07131f" stroke-width="0.45"/>
<circle cx="154.50" cy="356.40" r="0.8" fill="#24527a" stroke="#07131f" stroke-width="0.45"/>
<circle cx="154.50" cy="358.20" r="0.8" fill="#24527a" stroke="#07131f" stroke-width="0.45"/>
<circle cx="154.50" cy="360.00" r="0.8" fill="#24527a" stroke="#07131f" stroke-width="0.45"/>
<circle cx="154.50" cy="361.80" r="0.8" fill="#24527a" stroke="#07131f" stroke-width="0.45"/>
<circle cx="156.30" cy="354.60" r="0.8" fill="#24527a" stroke="#07131f" stroke-width="0.45"/>
<circle cx="156.30" cy="356.40" r="0.8" fill="#24527a" stroke="#07131f" stroke-width="0.45"/>
<circle cx="156.30" cy="358.20" r="0.8" fill="#24527a" stroke="#07131f" stroke-width="0.45"/>
<circle cx="156.30" cy="360.00" r="0.8" fill="#24527a" stroke="#07131f" stroke-width="0.45"/>
<circle cx="156.30" cy="361.80" r="0.8" fill="#24527a" stroke="#07131f" stroke-width="0.45"/>
<circle cx="158.10" cy="356.40" r="0.8" fill="#24527a" stroke="#07131f" stroke-width="0.45"/>
<circle cx="158.10" cy="358.20" r="0.8" fill="#24527a" stroke="#07131f" stroke-width="0.45"/>
<circle cx="158.10" cy="360.00" r="0.8" fill="#24527a" stroke="#07131f" stroke-width="0.45"/>
<circle cx="159.90" cy="356.40" r="0.8" fill="#24527a" stroke="#07131f" stroke-width="0.45"/>
<circle cx="159.90" cy="358.20" r="0.8" fill="#24527a" stroke="#07131f" stroke-width="0.45"/>
<circle cx="159.90" cy="360.00" r="0.8" fill="#24527a" stroke="#07131f" stroke-width="0.45"/>
<circle cx="161.60" cy="358.20" r="0.8" fill="#24527a" stroke="#07131f" stroke-width="0.45"/>
<circle cx="179.50" cy="358.20" r="0.8" fill="#24527a" stroke="#07131f" stroke-width="0.45"/>
<circle cx="181.30" cy="358.20" r="0.8" fill="#24527a" stroke="#07131f" stroke-width="0.45"/>
<circle cx="183.10" cy="358.20" r="0.8" fill="#24527a" stroke="#07131f" stroke-width="0.45"/>
<circle cx="184.90" cy="358.20" r="0.8" fill="#24527a" stroke="#07131f" stroke-width="0.45"/>
<circle cx="186.70" cy="358.20" r="0.8" fill="#24527a" stroke="#07131f" stroke-width="0.45"/>
<circle cx="192.60" cy="354.60" r="0.8" fill="#24527a" stroke="#07131f" stroke-width="0.45"/>
<circle cx="192.60" cy="356.40" r="0.8" fill="#24527a" stroke="#07131f" stroke-width="0.45"/>
<circle cx="192.60" cy="358.20" r="0.8" fill="#24527a" stroke="#07131f" stroke-width="0.45"/>
<circle cx="192.60" cy="360.00" r="0.8" fill="#24527a" stroke="#07131f" stroke-width="0.45"/>
<circle cx="192.60" cy="361.80" r="0.8" fill="#24527a" stroke="#07131f" stroke-width="0.45"/>
<circle cx="197.90" cy="355.50" r="0.8" fill="#24527a" stroke="#07131f" stroke-width="0.45"/>
<circle cx="197.90" cy="357.30" r="0.8" fill="#24527a" stroke="#07131f" stroke-width="0.45"/>
<circle cx="197.90" cy="359.10" r="0.8" fill="#24527a" stroke="#07131f" stroke-width="0.45"/>
<circle cx="197.90" cy="360.90" r="0.8" fill="#24527a" stroke="#07131f" stroke-width="0.45"/>
<circle cx="200.10" cy="351.00" r="0.8" fill="#24527a" stroke="#07131f" stroke-width="0.45"/>
<circle cx="200.10" cy="352.80" r="0.8" fill="#24527a" stroke="#07131f" stroke-width="0.45"/>
<circle cx="200.10" cy="354.60" r="0.8" fill="#24527a" stroke="#07131f" stroke-width="0.45"/>
<circle cx="200.10" cy="356.40" r="0.8" fill="#24527a" stroke="#07131f" stroke-width="0.45"/>
<circle cx="200.10" cy="358.20" r="0.8" fill="#24527a" stroke="#07131f" stroke-width="0.45"/>
<circle cx="200.10" cy="360.00" r="0.8" fill="#24527a" stroke="#07131f" stroke-width="0.45"/>
<circle cx="200.10" cy="361.80" r="0.8" fill="#24527a" stroke="#07131f" stroke-width="0.45"/>
<circle cx="200.10" cy="363.60" r="0.8" fill="#24527a" stroke="#07131f" stroke-width="0.45"/>
<circle cx="200.10" cy="365.40" r="0.8" fill="#24527a" stroke="#07131f" stroke-width="0.45"/>
<circle cx="203.20" cy="355.50" r="0.8" fill="#24527a" stroke="#07131f" stroke-width="0.45"/>
<circle cx="203.20" cy="357.30" r="0.8" fill="#24527a" stroke="#07131f" stroke-width="0.45"/>
<circle cx="203.20" cy="359.10" r="0.8" fill="#24527a" stroke="#07131f" stroke-width="0.45"/>
<circle cx="203.20" cy="360.90" r="0.8" fill="#24527a" stroke="#07131f" stroke-width="0.45"/>
<circle cx="201.60" cy="356.40" r="0.8" fill="#24527a" stroke="#07131f" stroke-width="0.45"/>
<circle cx="201.60" cy="358.20" r="0.8" fill="#24527a" stroke="#07131f" stroke-width="0.45"/>
<circle cx="201.60" cy="360.00" r="0.8" fill="#24527a" stroke="#07131f" stroke-width="0.45"/>
<circle cx="207.40" cy="355.50" r="0.8" fill="#24527a" stroke="#07131f" stroke-width="0.45"/>
<circle cx="207.40" cy="357.30" r="0.8" fill="#24527a" stroke="#07131f" stroke-width="0.45"/>
<circle cx="207.40" cy="359.10" r="0.8" fill="#24527a" stroke="#07131f" stroke-width="0.45"/>
<circle cx="207.40" cy="360.90" r="0.8" fill="#24527a" stroke="#07131f" stroke-width="0.45"/>
<circle cx="209.20" cy="356.40" r="0.8" fill="#24527a" stroke="#07131f" stroke-width="0.45"/>
<circle cx="209.20" cy="358.20" r="0.8" fill="#24527a" stroke="#07131f" stroke-width="0.45"/>
<circle cx="209.20" cy="360.00" r="0.8" fill="#24527a" stroke="#07131f" stroke-width="0.45"/>
<circle cx="210.90" cy="355.50" r="0.8" fill="#24527a" stroke="#07131f" stroke-width="0.45"/>
<circle cx="210.90" cy="357.30" r="0.8" fill="#24527a" stroke="#07131f" stroke-width="0.45"/>
<circle cx="210.90" cy="359.10" r="0.8" fill="#24527a" stroke="#07131f" stroke-width="0.45"/>
<circle cx="210.90" cy="360.90" r="0.8" fill="#24527a" stroke="#07131f" stroke-width="0.45"/>
<circle cx="212.50" cy="356.40" r="0.8" fill="#24527a" stroke="#07131f" stroke-width="0.45"/>
<circle cx="212.50" cy="358.20" r="0.8" fill="#24527a" stroke="#07131f" stroke-width="0.45"/>
<circle cx="212.50" cy="360.00" r="0.8" fill="#24527a" stroke="#07131f" stroke-width="0.45"/>
<circle cx="215.30" cy="350.10" r="0.8" fill="#24527a" stroke="#07131f" stroke-width="0.45"/>
<circle cx="215.30" cy="351.90" r="0.8" fill="#24527a" stroke="#07131f" stroke-width="0.45"/>
<circle cx="215.30" cy="353.70" r="0.8" fill="#24527a" stroke="#07131f" stroke-width="0.45"/>
<circle cx="215.30" cy="355.50" r="0.8" fill="#24527a" stroke="#07131f" stroke-width="0.45"/>
<circle cx="215.30" cy="357.30" r="0.8" fill="#24527a" stroke="#07131f" stroke-width="0.45"/>
<circle cx="215.30" cy="359.10" r="0.8" fill="#24527a" stroke="#07131f" stroke-width="0.45"/>
<circle cx="215.30" cy="360.90" r="0.8" fill="#24527a" stroke="#07131f" stroke-width="0.45"/>
<circle cx="215.30" cy="362.70" r="0.8" fill="#24527a" stroke="#07131f" stroke-width="0.45"/>
<circle cx="215.30" cy="364.50" r="0.8" fill="#24527a" stroke="#07131f" stroke-width="0.45"/>
<circle cx="215.30" cy="366.30" r="0.8" fill="#24527a" stroke="#07131f" stroke-width="0.45"/>
<circle cx="217.90" cy="357.30" r="0.8" fill="#24527a" stroke="#07131f" stroke-width="0.45"/>
<circle cx="217.90" cy="359.10" r="0.8" fill="#24527a" stroke="#07131f" stroke-width="0.45"/>
<circle cx="225.20" cy="356.40" r="0.8" fill="#24527a" stroke="#07131f" stroke-width="0.45"/>
<circle cx="225.20" cy="358.20" r="0.8" fill="#24527a" stroke="#07131f" stroke-width="0.45"/>
<circle cx="225.20" cy="360.00" r="0.8" fill="#24527a" stroke="#07131f" stroke-width="0.45"/>
<circle cx="227.10" cy="358.20" r="0.8" fill="#24527a" stroke="#07131f" stroke-width="0.45"/>
<circle cx="229.80" cy="354.60" r="0.8" fill="#24527a" stroke="#07131f" stroke-width="0.45"/>
<circle cx="229.80" cy="356.40" r="0.8" fill="#24527a" stroke="#07131f" stroke-width="0.45"/>
<circle cx="229.80" cy="358.20" r="0.8" fill="#24527a" stroke="#07131f" stroke-width="0.45"/>
<circle cx="229.80" cy="360.00" r="0.8" fill="#24527a" stroke="#07131f" stroke-width="0.45"/>
<circle cx="229.80" cy="361.80" r="0.8" fill="#24527a" stroke="#07131f" stroke-width="0.45"/>
<circle cx="235.10" cy="354.60" r="0.8" fill="#24527a" stroke="#07131f" stroke-width="0.45"/>
<circle cx="235.10" cy="356.40" r="0.8" fill="#24527a" stroke="#07131f" stroke-width="0.45"/>
<circle cx="235.10" cy="358.20" r="0.8" fill="#24527a" stroke="#07131f" stroke-width="0.45"/>
<circle cx="235.10" cy="360.00" r="0.8" fill="#24527a" stroke="#07131f" stroke-width="0.45"/>
<circle cx="235.10" cy="361.80" r="0.8" fill="#24527a" stroke="#07131f" stroke-width="0.45"/>
<circle cx="246.60" cy="356.40" r="0.8" fill="#24527a" stroke="#07131f" stroke-width="0.45"/>
<circle cx="246.60" cy="358.20" r="0.8" fill="#24527a" stroke="#07131f" stroke-width="0.45"/>
<circle cx="246.60" cy="360.00" r="0.8" fill="#24527a" stroke="#07131f" stroke-width="0.45"/>
<circle cx="249.80" cy="353.70" r="0.8" fill="#24527a" stroke="#07131f" stroke-width="0.45"/>
<circle cx="249.80" cy="355.50" r="0.8" fill="#24527a" stroke="#07131f" stroke-width="0.45"/>
<circle cx="249.80" cy="357.30" r="0.8" fill="#24527a" stroke="#07131f" stroke-width="0.45"/>
<circle cx="249.80" cy="359.10" r="0.8" fill="#24527a" stroke="#07131f" stroke-width="0.45"/>
<circle cx="249.80" cy="360.90" r="0.8" fill="#24527a" stroke="#07131f" stroke-width="0.45"/>
<circle cx="249.80" cy="362.70" r="0.8" fill="#24527a" stroke="#07131f" stroke-width="0.45"/>
<circle cx="255.30" cy="358.20" r="0.8" fill="#24527a" stroke="#07131f" stroke-width="0.45"/>
<circle cx="259.70" cy="357.30" r="0.8" fill="#24527a" stroke="#07131f" stroke-width="0.45"/>
<circle cx="259.70" cy="359.10" r="0.8" fill="#24527a" stroke="#07131f" stroke-width="0.45"/>
<circle cx="262.30" cy="351.90" r="0.8" fill="#24527a" stroke="#07131f" stroke-width="0.45"/>
<circle cx="262.30" cy="353.70" r="0.8" fill="#24527a" stroke="#07131f" stroke-width="0.45"/>
<circle cx="262.30" cy="355.50" r="0.8" fill="#24527a" stroke="#07131f" stroke-width="0.45"/>
<circle cx="262.30" cy="357.30" r="0.8" fill="#24527a" stroke="#07131f" stroke-width="0.45"/>
<circle cx="262.30" cy="359.10" r="0.8" fill="#24527a" stroke="#07131f" stroke-width="0.45"/>
<circle cx="262.30" cy="360.90" r="0.8" fill="#24527a" stroke="#07131f" stroke-width="0.45"/>
<circle cx="262.30" cy="362.70" r="0.8" fill="#24527a" stroke="#07131f" stroke-width="0.45"/>
<circle cx="262.30" cy="364.50" r="0.8" fill="#24527a" stroke="#07131f" stroke-width="0.45"/>
<circle cx="264.80" cy="355.50" r="0.8" fill="#24527a" stroke="#07131f" stroke-width="0.45"/>
<circle cx="264.80" cy="357.30" r="0.8" fill="#24527a" stroke="#07131f" stroke-width="0.45"/>
<circle cx="264.80" cy="359.10" r="0.8" fill="#24527a" stroke="#07131f" stroke-width="0.45"/>
<circle cx="264.80" cy="360.90" r="0.8" fill="#24527a" stroke="#07131f" stroke-width="0.45"/>
<circle cx="269.80" cy="355.50" r="0.8" fill="#24527a" stroke="#07131f" stroke-width="0.45"/>
<circle cx="269.80" cy="357.30" r="0.8" fill="#24527a" stroke="#07131f" stroke-width="0.45"/>
<circle cx="269.80" cy="359.10" r="0.8" fill="#24527a" stroke="#07131f" stroke-width="0.45"/>
<circle cx="269.80" cy="360.90" r="0.8" fill="#24527a" stroke="#07131f" stroke-width="0.45"/>
<circle cx="272.40" cy="352.80" r="0.8" fill="#24527a" stroke="#07131f" stroke-width="0.45"/>
<circle cx="272.40" cy="354.60" r="0.8" fill="#24527a" stroke="#07131f" stroke-width="0.45"/>
<circle cx="272.40" cy="356.40" r="0.8" fill="#24527a" stroke="#07131f" stroke-width="0.45"/>
<circle cx="272.40" cy="358.20" r="0.8" fill="#24527a" stroke="#07131f" stroke-width="0.45"/>
<circle cx="272.40" cy="360.00" r="0.8" fill="#24527a" stroke="#07131f" stroke-width="0.45"/>
<circle cx="272.40" cy="361.80" r="0.8" fill="#24527a" stroke="#07131f" stroke-width="0.45"/>
<circle cx="272.40" cy="363.60" r="0.8" fill="#24527a" stroke="#07131f" stroke-width="0.45"/>
<circle cx="282.00" cy="357.30" r="0.8" fill="#24527a" stroke="#07131f" stroke-width="0.45"/>
<circle cx="282.00" cy="359.10" r="0.8" fill="#24527a" stroke="#07131f" stroke-width="0.45"/>
<circle cx="284.70" cy="356.40" r="0.8" fill="#24527a" stroke="#07131f" stroke-width="0.45"/>
<circle cx="284.70" cy="358.20" r="0.8" fill="#24527a" stroke="#07131f" stroke-width="0.45"/>
<circle cx="284.70" cy="360.00" r="0.8" fill="#24527a" stroke="#07131f" stroke-width="0.45"/>
<circle cx="289.50" cy="356.40" r="0.8" fill="#24527a" stroke="#07131f" stroke-width="0.45"/>
<circle cx="289.50" cy="358.20" r="0.8" fill="#24527a" stroke="#07131f" stroke-width="0.45"/>
<circle cx="289.50" cy="360.00" r="0.8" fill="#24527a" stroke="#07131f" stroke-width="0.45"/>
<circle cx="291.20" cy="357.30" r="0.8" fill="#24527a" stroke="#07131f" stroke-width="0.45"/>
<circle cx="291.20" cy="359.10" r="0.8" fill="#24527a" stroke="#07131f" stroke-width="0.45"/>
<text x="113.30" y="381.60" font-size="8.05" fill="#333" text-anchor="middle" stroke="#333" stroke-width="0.1">April</text>
<text x="188.00" y="381.60" font-size="8.05" fill="#333" text-anchor="middle" stroke="#333" stroke-width="0.1">May</text>
<text x="265.50" y="381.60" font-size="8.05" fill="#333" text-anchor="middle" stroke="#333" stroke-width="0.1">June</text>
<text x="199.30" y="394.60" font-size="9.0" fill="#222" text-anchor="middle" stroke="#222" stroke-width="0.1">Test date</text>
<text x="315.80" y="267.70" font-size="8.8" fill="#1a1a1a" stroke="#1a1a1a" stroke-width="0.1">Pairwise relatedness</text>
<path d="M316.9,275.5 L325.1,275.5" stroke="#8a38a3" stroke-width="1.1"/>
<text x="329.70" y="277.60" font-size="8.8" fill="#1a1a1a" stroke="#1a1a1a" stroke-width="0.1">High</text>
<path d="M316.9,286.09999999999997 L325.1,286.09999999999997" stroke="#8e9ad2" stroke-width="1.1"/>
<text x="329.70" y="288.20" font-size="8.8" fill="#1a1a1a" stroke="#1a1a1a" stroke-width="0.1">Medium</text>
<path d="M316.9,296.59999999999997 L325.1,296.59999999999997" stroke="#c3daee" stroke-width="1.1"/>
<text x="329.70" y="298.70" font-size="8.8" fill="#1a1a1a" stroke="#1a1a1a" stroke-width="0.1">Low</text>
<text x="315.80" y="309.80" font-size="9.1" fill="#1a1a1a" stroke="#1a1a1a" stroke-width="0.1">Collection site</text>
<circle cx="321.10" cy="318.00" r="1.35" fill="#000"/>
<text x="329.70" y="319.50" font-size="8.8" fill="#1a1a1a" stroke="#1a1a1a" stroke-width="0.1">City</text>
<polygon points="319.30,329.86 322.90,329.86 321.10,326.74" fill="#000"/>
<text x="329.70" y="330.50" font-size="8.8" fill="#1a1a1a" stroke="#1a1a1a" stroke-width="0.1">University</text>
</svg></body></html>
